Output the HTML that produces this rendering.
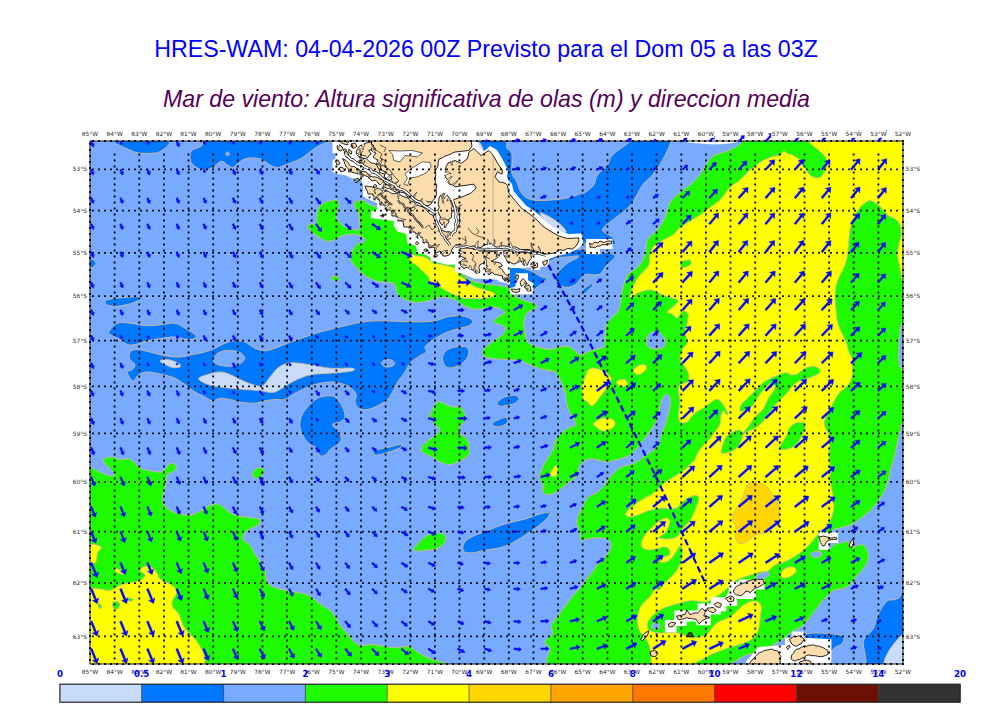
<!DOCTYPE html>
<html lang="es"><head><meta charset="utf-8"><title>HRES-WAM Mar de viento</title>
<style>html,body{margin:0;padding:0;background:#fff}svg{display:block}.t1{font-family:"Liberation Sans",sans-serif;font-size:23.23px;fill:#0000ff}.t2{font-family:"Liberation Sans",sans-serif;font-size:23.145px;font-style:italic;fill:#550055}.tk{font-family:"DejaVu Sans","Liberation Sans",sans-serif;font-size:5.9px;fill:#2a2a2a}.cb{font-family:"DejaVu Sans","Liberation Sans",sans-serif;font-size:8.7px;font-weight:bold;fill:#0000ff}</style></head><body>
<svg width="1000" height="707" viewBox="0 0 1000 707">
<rect width="1000" height="707" fill="#fff"/>
<text class="t1" x="486" y="56.5" text-anchor="middle">HRES-WAM: 04-04-2026 00Z Previsto para el Dom 05 a las 03Z</text>
<text class="t2" x="486.5" y="106.5" text-anchor="middle">Mar de viento: Altura significativa de olas (m) y direccion media</text>
<defs><clipPath id="fr"><rect x="90.0" y="141.0" width="813.0" height="523.0"/></clipPath></defs>
<g clip-path="url(#fr)">
<rect x="90.0" y="141.0" width="813.0" height="523.0" fill="#78aaff"/>
<path d="M113.8 128C104.5 130.2 112.5 138.2 113.8 141.2C115 144.2 118.3 144.5 121 146C123.7 147.5 127 148.8 130 150C133 151.2 134.6 152.5 138.8 153C142.9 153.5 151 153.5 155 153C159 152.5 160.4 151.2 162.5 150C164.6 148.8 166.3 147.5 167.5 146C168.7 144.5 169.2 144 169.5 141C169.8 138 178.8 130.2 169.5 128C160.2 125.8 123 125.8 113.8 128ZM202.5 128C180.4 130.2 202.7 138 202.5 141C202.3 144 202.9 144.8 201.2 146.2C199.6 147.8 194.4 148.5 192.5 150C190.6 151.5 190.2 152.9 190 155C189.8 157.1 190 160.3 191.2 162.5C192.5 164.7 195.2 166.8 197.5 168C199.8 169.2 202.5 170.1 205 170C207.5 169.9 209.8 169 212.5 167.5C215.2 166 218.8 161.7 221.2 161.2C223.8 160.8 225.6 164 227.5 165C229.4 166 230.8 167.7 232.5 167.5C234.2 167.3 235.4 165.2 237.5 163.8C239.6 162.3 242.1 159.7 245 158.8C247.9 157.8 252.1 157.8 255 158C257.9 158.2 260 158.8 262.5 160C265 161.2 267.5 163.8 270 165C272.5 166.2 275 167.5 277.5 167.5C280 167.5 282.1 166 285 165C287.9 164 292.1 162.5 295 161.2C297.9 160 299.6 159.4 302.5 157.5C305.4 155.6 309.6 152.1 312.5 150C315.4 147.9 317.1 146.5 320 145C322.9 143.5 327.2 142.2 329.8 141.2C332.2 140.2 334.1 141.2 335 139C335.9 136.8 357.1 129.8 335 128C312.9 126.2 224.6 125.8 202.5 128ZM78 258C80 256.5 87.3 258.6 90 259C92.7 259.4 93 259.8 94 260.5C95 261.2 96 262.5 96 263.5C96 264.5 95 265.8 94 266.5C93 267.2 92.7 267.2 90 267.5C87.3 267.8 80 269.6 78 268C76 266.4 76 259.5 78 258ZM105 301.2C105.8 300.2 108.3 299.5 112.5 298.8C116.7 298 125.6 297.3 130 297C134.4 296.7 137.3 296.5 138.8 297C140.2 297.5 140.2 298.9 138.8 300C137.3 301.1 133.5 302.7 130 303.8C126.5 304.8 121.2 306 117.5 306.2C113.8 306.5 109.6 305.8 107.5 305C105.4 304.2 104.2 302.3 105 301.2ZM108.8 332C109.6 329.9 114 324.7 117.5 323.2C121 321.8 125 322.8 130 323.2C135 323.7 142.1 325.5 147.5 325.8C152.9 326 157.9 324.9 162.5 324.5C167.1 324.1 171.2 322.6 175 323.2C178.8 323.9 181.7 326.4 185 328.2C188.3 330.1 193.3 332.8 195 334.5C196.7 336.2 196.2 337.4 195 338.2C193.8 339.1 190.8 339.7 187.5 339.5C184.2 339.3 179.2 337.2 175 337C170.8 336.8 167.1 337.6 162.5 338.2C157.9 338.9 152.1 339.7 147.5 340.8C142.9 341.8 138.3 343.9 135 344.5C131.7 345.1 130 345.3 127.5 344.5C125 343.7 122.5 341 120 339.5C117.5 338 114.4 337 112.5 335.8C110.6 334.5 107.9 334.1 108.8 332ZM130 352C131.2 350.3 134.2 349.5 137.5 349.5C140.8 349.5 145.4 351 150 352C154.6 353 160 354.9 165 355.8C170 356.6 175.4 357.2 180 357C184.6 356.8 188.3 355.3 192.5 354.5C196.7 353.7 201.2 353 205 352C208.8 351 211.7 349.7 215 348.2C218.3 346.8 221.7 344.5 225 343.2C228.3 342 231.7 341 235 340.8C238.3 340.5 241.7 340.8 245 342C248.3 343.2 251.7 346.8 255 348.2C258.3 349.7 261.7 350.8 265 350.8C268.3 350.8 271.2 349.5 275 348.2C278.8 347 282.5 345.1 287.5 343.2C292.5 341.4 299.6 338.9 305 337C310.4 335.1 315.8 333.2 320 332C324.2 330.8 325.8 330.5 330 329.5C334.2 328.5 339.6 327 345 325.8C350.4 324.5 356.7 322.8 362.5 322C368.3 321.2 373.8 320.8 380 320.8C386.2 320.7 393.8 321.3 400 321.5C406.2 321.7 411.7 322.1 417.5 322C423.3 321.9 430 321.6 435 320.8C440 319.9 443.3 317.8 447.5 317C451.7 316.2 456.2 315.5 460 315.8C463.8 316 467.9 317.2 470 318.2C472.1 319.3 472.7 320.8 472.5 322C472.3 323.2 470.8 324.7 468.8 325.8C466.7 326.8 463.5 327.2 460 328.2C456.5 329.3 451.2 330.5 447.5 332C443.8 333.5 440.4 335.3 437.5 337C434.6 338.7 432.1 340.3 430 342C427.9 343.7 425.6 345.3 425 347C424.4 348.7 427.1 350.5 426.2 352C425.4 353.5 422.7 353.9 420 355.8C417.3 357.6 412.5 360.5 410 363.2C407.5 366 407.1 368.9 405 372C402.9 375.1 399.6 378.7 397.5 382C395.4 385.3 394.2 389.1 392.5 392C390.8 394.9 390 397.2 387.5 399.5C385 401.8 380.8 404.1 377.5 405.8C374.2 407.4 370.6 409.1 367.5 409.5C364.4 409.9 360.8 409.5 358.8 408.2C356.7 407 355.4 404.3 355 402C354.6 399.7 357.1 397 356.2 394.5C355.4 392 352.7 388.9 350 387C347.3 385.1 343.3 384.1 340 383.2C336.7 382.4 334.2 381.8 330 382C325.8 382.2 319.6 383.2 315 384.5C310.4 385.8 306.2 387.8 302.5 389.5C298.8 391.2 295.4 392.8 292.5 394.5C289.6 396.2 287.9 398.7 285 399.5C282.1 400.3 278.3 399.3 275 399.5C271.7 399.7 268.3 400.1 265 400.8C261.7 401.4 259.2 403 255 403.2C250.8 403.5 244.2 402.6 240 402C235.8 401.4 233.3 400.1 230 399.5C226.7 398.9 222.9 398 220 398.2C217.1 398.5 215 401 212.5 400.8C210 400.5 207.9 398.5 205 397C202.1 395.5 198.3 394.1 195 392C191.7 389.9 188.3 386.8 185 384.5C181.7 382.2 178.8 379.9 175 378.2C171.2 376.6 167.1 375.5 162.5 374.5C157.9 373.5 151.5 372 147.5 372C143.5 372 141 373 138.8 374.5C136.5 376 135.2 380.1 133.8 380.8C132.3 381.4 131 379.7 130 378.2C129 376.8 127.1 373.5 127.5 372C127.9 370.5 131.2 370.8 132.5 369.5C133.8 368.2 135.4 366.2 135 364.5C134.6 362.8 130.8 361.6 130 359.5C129.2 357.4 128.8 353.7 130 352ZM330 395.8C333.1 395.8 334.2 396.4 336.2 398.2C338.3 400.1 341 403.9 342.5 407C344 410.1 345.4 414.5 345 417C344.6 419.5 342.1 420.8 340 422C337.9 423.2 332.7 422.8 332.5 424.5C332.3 426.2 337.3 429.5 338.8 432C340.2 434.5 341.5 437.4 341.2 439.5C341 441.6 339.4 442.8 337.5 444.5C335.6 446.2 331.9 447.8 330 449.5C328.1 451.2 327.9 453.5 326.2 454.5C324.6 455.5 321.5 456.8 320 455.8C318.5 454.7 319.2 450.1 317.5 448.2C315.8 446.4 312.3 446.4 310 444.5C307.7 442.6 305.4 439.9 303.8 437C302.1 434.1 300.4 430.3 300 427C299.6 423.7 300 420.3 301.2 417C302.5 413.7 304.8 410.1 307.5 407C310.2 403.9 313.8 400.1 317.5 398.2C321.2 396.4 326.9 395.8 330 395.8ZM442.5 358.2C442.5 355.5 444.2 352.6 446.2 350.8C448.3 348.9 451.7 347.6 455 347C458.3 346.4 464 346 466.2 347C468.5 348 469 351 468.8 353.2C468.5 355.5 467.3 358.5 465 360.8C462.7 363 458.1 366 455 367C451.9 368 448.3 368.5 446.2 367C444.2 365.5 442.5 361 442.5 358.2ZM373.8 452C374.6 451 377.3 449.8 380 449C382.7 448.2 386.7 447.8 390 447C393.3 446.2 398.1 444.5 400 444.5C401.9 444.5 402.5 446 401.2 447C400 448 395.6 449.6 392.5 450.8C389.4 451.9 385.4 453.3 382.5 454C379.6 454.7 376.5 455.3 375 455C373.5 454.7 372.9 453 373.8 452ZM497.5 402C498.5 400.5 502.1 398.1 505 397C507.9 395.9 512.7 395 515 395.2C517.3 395.5 518.8 396.9 518.8 398.2C518.8 399.6 517.3 402 515 403.2C512.7 404.5 507.7 405.3 505 405.8C502.3 406.2 500 406.4 498.8 405.8C497.5 405.1 496.5 403.5 497.5 402ZM492.5 423.2C493.3 422 497.7 420 500 419C502.3 418 505 417 506.2 417.5C507.5 418 508.1 420.6 507.5 422C506.9 423.4 504.6 425 502.5 425.8C500.4 426.5 496.7 426.9 495 426.5C493.3 426.1 491.7 424.5 492.5 423.2ZM463.8 551.5C462.3 550 462.7 546.3 463.8 544C464.8 541.7 466.5 539.8 470 537.8C473.5 535.7 479.2 533.8 485 531.5C490.8 529.2 498.3 526.1 505 524C511.7 521.9 519.2 520.7 525 519C530.8 517.3 536 515 540 514C544 513 547.5 512.1 548.8 512.8C550 513.4 549.4 515.5 547.5 517.8C545.6 520 541.2 523.6 537.5 526.5C533.8 529.4 529.2 532.5 525 535.2C520.8 538 516.7 540.7 512.5 542.8C508.3 544.8 504.6 546.5 500 547.8C495.4 549 489.6 549.4 485 550.2C480.4 551.1 476 552.5 472.5 552.8C469 553 465.2 553 463.8 551.5ZM478 128C445.8 130.2 477.3 137.3 478 141C478.7 144.7 480 148.2 482 150C484 151.8 487.7 150.3 490 152C492.3 153.7 494.3 157 496 160C497.7 163 499.8 167.3 500 170C500.2 172.7 496.5 173.7 497 176C497.5 178.3 501.2 181.3 503 184C504.8 186.7 506 189 508 192C510 195 512.5 199 515 202C517.5 205 520.3 207.7 523 210C525.7 212.3 528.2 213.7 531 216C533.8 218.3 536.8 221.3 540 224C543.2 226.7 546.7 229.8 550 232C553.3 234.2 556.7 236.2 560 237.5C563.3 238.8 566.7 239.8 570 240C573.3 240.2 578.2 238.3 580 239C581.8 239.7 581.5 242.3 581 244C580.5 245.7 576.1 248 577 249C577.9 250 584.8 249.3 586.3 250C587.8 250.7 584.1 252.4 586.3 253.1C588.5 253.8 596.1 254 599.6 253.9C603.1 253.8 605 252.2 607.3 252.3C609.6 252.4 612.3 253.9 613.6 254.7C614.9 255.5 615.6 255.8 615.1 257C614.6 258.2 612 260.1 610.4 261.7C608.8 263.2 607.1 264.8 605.8 266.3C604.5 267.9 603.7 269.7 602.7 271C601.7 272.3 601.2 273.5 599.6 274.1C598 274.8 595.4 274.9 593.3 274.9C591.2 274.9 588.9 273.9 587.1 274.1C585.3 274.4 583.7 275.4 582.4 276.4C581.1 277.4 580.6 278.9 579.3 280.3C578 281.7 576.5 283.8 574.7 285C572.9 286.2 570.5 287 568.4 287.3C566.3 287.6 564 287.2 562.2 286.6C560.4 286 558.8 284.7 557.6 283.4C556.4 282.1 555.5 280.4 555.2 278.8C554.9 277.2 555.1 275.7 556 274.1C556.9 272.5 559.2 270.9 560.7 269.4C562.2 267.8 563.5 266.2 565.3 264.8C567.1 263.4 569.5 262.1 571.6 260.9C573.7 259.7 576.8 258.6 577.8 257.8C578.8 257 579.1 256 577.8 255.8C576.5 255.6 573.1 256.4 570 256.7C566.9 257 562.5 257.1 559.1 257.8C555.7 258.5 551.6 260.6 549.8 260.9C548 261.1 547.2 260.1 548.2 259.3C549.2 258.5 552.6 257.2 556 256.2C559.4 255.2 565.6 254.1 568.4 253.1C571.2 252.1 573.4 251 573 250C572.6 249 565.7 248.2 566 247C566.3 245.8 567.2 243.3 575 243C582.8 242.7 606.2 245.9 612.5 245C618.8 244.1 614.2 240 612.5 237.5C610.8 235 602.5 232.9 602.5 230C602.5 227.1 609.2 222.9 612.5 220C615.8 217.1 619.2 215.4 622.5 212.5C625.8 209.6 629.2 207.1 632.5 202.5C635.8 197.9 639.2 189.6 642.5 185C645.8 180.4 649.2 179.2 652.5 175C655.8 170.8 659.4 165.7 662.5 160C665.6 154.3 669.8 146.3 671.2 141C672.7 135.7 703.5 130.2 671.2 128C639 125.8 510.2 125.8 478 128ZM581.7 292C581.8 291.1 583.5 289.3 584.8 288.1C586.1 286.9 588.1 285.8 589.4 285C590.7 284.2 592.2 283.1 592.6 283.4C593 283.7 592.6 285.4 591.8 286.6C591 287.8 589.2 289.2 587.9 290.4C586.6 291.6 585 293.3 584 293.6C583 293.9 581.6 292.9 581.7 292ZM510.1 267.9C511.7 263.8 516.7 267.4 520.2 267.9C523.7 268.4 527.7 269.6 531.1 271C534.5 272.4 537.8 275.1 540.4 276.4C543 277.7 546.4 277.6 546.7 278.8C547 280 543.8 281.8 542 283.4C540.2 284.9 537.5 286.5 535.8 288.1C534.1 289.7 536 292 531.9 292.8C527.8 293.6 514.5 297 510.9 292.8C507.3 288.6 508.6 272 510.1 267.9ZM916 590C913.8 576 905.7 591.5 903 592.7C900.3 593.9 901.3 596.1 899.9 597.3C898.5 598.5 896.3 599.2 894.4 599.7C892.5 600.2 890 599.5 888.2 600.4C886.4 601.3 885.2 603 883.6 605.1C882 607.2 880.2 610.3 878.9 612.9C877.6 615.5 876.6 618.4 875.8 620.7C875 623 875.2 624.8 874.2 626.9C873.2 629 871.2 631.3 869.6 633.1C868 634.9 866 636 864.9 637.8C863.8 639.6 863.3 641.4 863.3 644C863.3 646.6 864.4 650 864.9 653.3C865.4 656.6 866.1 659.9 866.4 663.9C866.6 667.9 858.1 674.8 866.4 677C874.7 679.2 907.7 691.5 916 677C924.3 662.5 918.2 604 916 590ZM805.8 634.7C807.6 632.7 812.3 633.2 816.7 633.1C821.1 633 828.1 633.5 832.2 633.9C836.4 634.3 839.7 634.5 841.6 635.4C843.5 636.3 843.9 637.9 843.9 639.3C843.9 640.7 843 642.7 841.6 644C840.2 645.3 836.9 646.1 835.3 647.1C833.7 648.1 833.9 649.4 832.2 650.2C830.5 651 829.4 652.9 825 652C820.6 651.1 809 647.9 805.8 645C802.6 642.1 804 636.7 805.8 634.7Z" fill="#0078ff" stroke="#d0b898" stroke-width="0.9"/>
<path d="M213.8 362C212.7 360.1 214.4 356.4 216.2 354.5C218.1 352.6 221.5 351.2 225 350.8C228.5 350.2 234.4 350.7 237.5 351.5C240.6 352.3 242.7 354.2 243.8 355.8C244.8 357.3 245.2 359.1 243.8 360.8C242.3 362.4 238.5 364.9 235 365.8C231.5 366.6 226 366.4 222.5 365.8C219 365.1 214.8 363.9 213.8 362ZM381.5 363.2C381.5 362.2 382.9 360.8 384 360.2C385.1 359.6 386.6 359.4 388 359.5C389.4 359.6 391.4 359.9 392.5 360.5C393.6 361.1 394.8 362.3 394.8 363.2C394.8 364.2 393.6 365.4 392.5 366C391.4 366.6 389.4 366.9 388 367C386.6 367.1 385.1 366.9 384 366.3C382.9 365.7 381.5 364.3 381.5 363.2ZM225.5 153.8C225.5 153.1 226.8 151.9 227.5 151.9C228.2 151.9 229.7 153.1 229.7 153.8C229.7 154.4 228.2 155.7 227.5 155.7C226.8 155.7 225.5 154.4 225.5 153.8ZM506.9 128C485.9 130.3 506.9 138.4 506.9 141.8C506.9 145.1 506.1 145.9 506.9 148C507.7 150.1 511.1 150.1 511.9 154.2C512.7 158.4 511.2 168.6 511.9 173C512.6 177.4 514.9 177.6 516.2 180.5C517.6 183.4 518.5 187.8 520 190.5C521.5 193.2 522.9 195.2 525 196.8C527.1 198.3 529.6 199.3 532.5 199.9C535.4 200.5 537.9 200.6 542.5 200.5C547.1 200.4 555 199.9 560 199.2C565 198.6 569.2 197.7 572.5 196.8C575.8 195.8 577.9 194.5 580 193.8C582.1 193 582.7 194 585 192.5C587.3 191 591.7 187.9 593.8 185C595.8 182.1 595.2 178.3 597.5 175C599.8 171.7 605 168.3 607.5 165C610 161.7 608.8 159 612.5 155C616.2 151 626.6 145.5 630 141C633.4 136.5 653.5 130.2 633 128C612.5 125.8 527.9 125.7 506.9 128Z" fill="#78aaff" stroke="#d0b898" stroke-width="0.9"/>
<path d="M160 360.8C160.4 359.9 164.4 359.1 167.5 359.5C170.6 359.9 176.7 362 178.8 363.2C180.8 364.5 181 366.3 180 367C179 367.7 175 367.9 172.5 367.5C170 367.1 167.1 365.6 165 364.5C162.9 363.4 159.6 361.6 160 360.8ZM198.8 378.2C199.6 377 204 375.5 207.5 374.5C211 373.5 216.2 372 220 372C223.8 372 226.7 373.2 230 374.5C233.3 375.8 236.2 377.8 240 379.5C243.8 381.2 248.8 383.5 252.5 384.5C256.2 385.5 259.6 387 262.5 385.8C265.4 384.5 267.5 379.9 270 377C272.5 374.1 274.6 370.5 277.5 368.2C280.4 366 283.8 364.1 287.5 363.2C291.2 362.4 295.4 362.8 300 363.2C304.6 363.7 310 364.9 315 365.8C320 366.6 323.8 367.8 330 368.2C336.2 368.7 348.8 367.8 352.5 368.2C356.2 368.7 354.6 370 352.5 370.8C350.4 371.5 343.8 372.1 340 372.5C336.2 372.9 334.6 372.9 330 373.2C325.4 373.6 317.5 373.7 312.5 374.5C307.5 375.3 303.8 376.8 300 378.2C296.2 379.7 293.3 381.4 290 383.2C286.7 385.1 282.9 388 280 389.5C277.1 391 275.8 392.3 272.5 392.5C269.2 392.7 264.6 391.2 260 390.8C255.4 390.2 250 389.9 245 389.5C240 389.1 235.4 388.9 230 388.2C224.6 387.6 217.1 386.8 212.5 385.8C207.9 384.7 204.8 383.2 202.5 382C200.2 380.8 197.9 379.5 198.8 378.2ZM883.6 677C878.2 674.8 883.1 667.6 883.6 663.9C884.1 660.2 885.4 657.7 886.7 654.9C888 652.1 889.5 649.7 891.3 647.1C893.1 644.5 895.6 641.4 897.6 639.3C899.6 637.2 899.9 636.2 903 634.7C906.1 633.2 913.8 623 916 630C918.2 637 921.4 669.2 916 677C910.6 684.8 889 679.2 883.6 677ZM540 213C540.2 211.8 544.3 214.2 547 215.5C549.7 216.8 553.3 219.1 556 221C558.7 222.9 561.3 225.2 563 227C564.7 228.8 566.5 231.2 566 232C565.5 232.8 562.2 232.7 560 232C557.8 231.3 555.3 229.5 553 228C550.7 226.5 548.2 225.5 546 223C543.8 220.5 539.8 214.2 540 213ZM477 143C476.8 141.7 479 142 480 143C481 144 482.8 147.7 483 149C483.2 150.3 482 152 481 151C480 150 477.2 144.3 477 143Z" fill="#c8dcfa" stroke="#d0b898" stroke-width="0.9"/>
<path d="M742.5 141C744.6 137.3 713.6 130.2 742.5 128C771.4 125.8 887.1 96.3 916 128C944.9 159.7 918.2 285.7 916 318C913.8 350.3 905.7 319.7 903 322C900.3 324.3 900.7 327.8 900 332C899.3 336.2 899.2 342 899 347C898.8 352 898.5 358.2 899 362C899.5 365.8 901.1 367.8 901.8 369.5C902.4 371.2 900.6 370.9 903 372C905.4 373.1 913.8 368.3 916 376C918.2 383.7 918.2 410.3 916 418C913.8 425.7 905.7 419.7 903 422C900.3 424.3 900.9 428.7 900 432C899.1 435.3 898.3 438.2 897.5 442C896.7 445.8 896 450.3 895 454.5C894 458.7 892.2 463.4 891.2 467C890.3 470.6 890.1 473.4 889.4 476.2C888.7 479 888 481.4 887.1 484C886.2 486.6 885.3 489.2 884 491.8C882.7 494.4 881.1 497 879.3 499.6C877.5 502.2 875.2 505 873.1 507.3C871 509.6 869 511.8 866.9 513.6C864.8 515.4 862.8 516.7 860.7 518.2C858.6 519.8 856.7 521.6 854.4 522.9C852.1 524.2 849.3 525.1 846.7 526C844.1 526.9 841.1 527.6 838.9 528.3C836.7 528.9 834.9 528.8 833.4 529.9C831.9 531 830.7 532.8 830 535C829.3 537.2 829.2 540.6 829 543C828.8 545.4 827.9 549 828.8 549.3C829.7 549.6 832.3 545.7 834.2 544.7C836.1 543.7 838.3 543.6 840.4 543.1C842.5 542.6 845.1 541.3 846.7 541.6C848.3 541.9 848.5 543.8 849.8 544.7C851.1 545.6 852.8 547 854.4 547C856 547 857.5 545 859.1 544.7C860.7 544.4 862.5 544.6 863.8 545.4C865.1 546.2 866.1 547.6 866.9 549.3C867.7 551 868.4 553.3 868.4 555.6C868.4 557.9 867.5 561.5 866.9 563.3C866.3 565.1 866 564.7 864.9 566.2C863.8 567.7 861.8 570.6 860.2 572.4C858.7 574.2 856.9 575.5 855.6 577.1C854.3 578.7 853.7 580.2 852.4 581.8C851.1 583.3 849.6 585.2 847.8 586.4C846 587.6 843.7 588.3 841.6 588.8C839.5 589.3 837.1 589 835.3 589.6C833.5 590.2 832.2 591.4 830.7 592.7C829.2 594 827.6 595.8 826 597.3C824.4 598.8 822.8 600.2 821.3 602C819.8 603.8 818.2 606.1 816.7 608.2C815.2 610.3 813.6 612.3 812 614.4C810.4 616.5 809.1 618.6 807.3 620.7C805.5 622.8 803.2 625.4 801.1 626.9C799 628.4 796.5 629.2 794.9 630C793.3 630.8 793.5 630.3 791.8 631.6C790.1 632.9 787.1 636.1 784.8 637.8C782.5 639.5 780.5 640.5 778 642C775.5 643.5 773 645.3 770 647C767 648.7 763.3 650.8 760 652C756.7 653.2 753 653.2 750 654C747 654.8 744.3 655.8 742 657C739.7 658.2 737.8 659.8 736 661C734.2 662.2 731.8 661.3 731 664C730.2 666.7 761.8 674.8 731 677C700.2 679.2 577 679.2 546.2 677C515.5 674.8 546 667.4 546.2 664C546.5 660.6 546.9 659 547.5 656.5C548.1 654 550.4 651.5 550 649C549.6 646.5 544.6 644 545 641.5C545.4 639 551.5 636.7 552.5 634C553.5 631.3 550.4 628.2 551.2 625.2C552.1 622.3 555.2 619.6 557.5 616.5C559.8 613.4 562.5 609.8 565 606.5C567.5 603.2 570 599.6 572.5 596.5C575 593.4 577.9 590.2 580 587.8C582.1 585.2 582.9 584.2 585 581.5C587.1 578.8 590 574.8 592.5 571.5C595 568.2 597.5 564.4 600 561.5C602.5 558.6 605.6 556.7 607.5 554C609.4 551.3 611.2 547.8 611.2 545.2C611.2 542.8 610.2 540.2 607.5 539C604.8 537.8 598.8 537.7 595 537.8C591.2 537.8 587.5 539.1 585 539.5C582.5 539.9 580.7 540.9 580 540.2C579.3 539.6 580.9 537.6 580.7 535.8C580.6 534 579.8 531.7 579.1 529.6C578.5 527.5 577 525.4 576.8 523.3C576.5 521.2 577 519.2 577.6 517.1C578.2 515 579.7 513 580.7 510.9C581.7 508.8 582.8 506.8 583.8 504.7C584.8 502.6 585.6 500 586.9 498.4C588.2 496.8 589.8 496.3 591.6 495.3C593.4 494.3 596 493.5 597.8 492.2C599.6 490.9 600.8 489.4 602.4 487.6C604 485.8 605.5 483.4 607.1 481.3C608.7 479.2 610.2 476.9 611.8 475.1C613.3 473.3 614.6 471.8 616.4 470.4C618.2 469 620.6 467.5 622.7 466.6C624.8 465.7 626.8 465.6 628.9 465C631 464.4 633 463.7 635.1 462.7C637.2 461.7 639 460.4 641.3 458.8C643.6 457.2 646.8 455 649.1 453.3C651.4 451.6 653.5 450.8 655.3 448.7C657.1 446.6 659 443 660 440.9C661 438.8 660.2 438.6 661 436C661.8 433.4 663.8 428.5 665 425C666.2 421.5 667.2 418.3 668 415C668.8 411.7 669.7 407.8 670 405C670.3 402.2 670.6 399.8 670 398C669.4 396.2 667.8 393.9 666.5 394C665.2 394.1 663.6 396.3 662.5 398.5C661.4 400.7 660.8 403.9 660 407C659.2 410.1 658.7 413.7 657.5 417C656.3 420.3 654.6 424.2 653 427C651.4 429.8 649.7 431.7 648 434C646.3 436.3 644.5 438.7 642.9 440.9C641.3 443.1 639.8 445.3 638.2 447.1C636.7 448.9 635.2 450.4 633.6 451.8C632 453.2 630.7 454.7 628.9 455.7C627.1 456.7 625 457.2 622.7 458C620.4 458.8 617.5 459.7 614.9 460.3C612.3 460.9 609.7 461.9 607.1 461.9C604.5 461.9 601.9 460.8 599.3 460.3C596.7 459.8 593.9 458.8 591.6 458.8C589.3 458.8 587.1 459.4 585.3 460.3C583.5 461.2 581.9 462.8 580.7 464.2C579.5 465.6 578.6 467.1 578.3 468.9C578 470.7 579.8 473.6 579.1 475.1C578.5 476.7 576.2 476.9 574.4 478.2C572.6 479.5 570.3 481.3 568.2 482.9C566.1 484.5 564.3 485.9 562 487.6C559.7 489.3 556.8 491.8 554.2 493C551.6 494.2 548.3 495 546.4 494.6C544.5 494.2 543.1 492.1 542.6 490.7C542.1 489.3 543.8 488.1 543.3 486C542.8 483.9 539.9 480.3 539.4 478.2C538.9 476.1 539.3 476.2 540.2 473.6C541.1 471 543.1 466.1 544.9 462.7C546.7 459.3 549.5 456.1 551.1 453.3C552.7 450.5 553.2 448.2 554.2 445.6C555.2 443 555.5 440.4 557.3 437.8C559.1 435.2 562.6 431.9 565.1 430C567.6 428.1 570.1 427.4 572 426.5C573.9 425.6 576.2 426.1 576.2 424.5C576.3 422.9 574 419.9 572.5 417C571 414.1 568.8 411.2 567.5 407C566.2 402.8 566.2 396.6 565 392C563.8 387.4 561.7 382.8 560 379.5C558.3 376.2 557.9 373.7 555 372C552.1 370.3 546.2 370.5 542.5 369.5C538.8 368.5 536.2 367.2 532.5 365.8C528.8 364.3 524.6 361.8 520 360.8C515.4 359.7 510 359.9 505 359.5C500 359.1 493.8 359.1 490 358.2C486.2 357.4 483.5 356 482.5 354.5C481.5 353 482.1 351.6 483.8 349.5C485.4 347.4 489.4 344.5 492.5 342C495.6 339.5 500.4 337 502.5 334.5C504.6 332 506.5 329.1 505 327C503.5 324.9 495.1 323.5 493.8 322C492.4 320.5 495.5 319.2 497 318C498.5 316.8 501.2 315.3 502.5 314.5C503.8 313.7 505.4 314 505 313C504.6 312 502.3 309.5 500 308.5C497.7 307.5 494.6 307.1 491.2 307.2C487.9 307.4 483.3 308.9 480 309.1C476.7 309.3 474.2 309.2 471.2 308.5C468.3 307.8 465.2 306.2 462.5 304.8C459.8 303.3 458.3 301 455 299.8C451.7 298.5 446 297.4 442.5 297.2C439 297.1 436.7 298.4 433.8 299.1C430.8 299.8 428.1 301.1 425 301.6C421.9 302.1 418.3 302.6 415 302.2C411.7 301.9 407.7 300.8 405 299.8C402.3 298.7 400.2 297.7 398.8 296C397.3 294.3 397.1 291.8 396.2 289.8C395.4 287.7 395.6 284.8 393.8 283.5C391.9 282.2 387.9 282.7 385 282.2C382.1 281.8 379.2 281.8 376.2 281C373.3 280.2 370 278.7 367.5 277.2C365 275.8 363.3 274.1 361.2 272.2C359.2 270.4 356.8 268.1 355 266C353.2 263.9 351.2 261.9 350.6 259.8C350 257.6 350.5 255.2 351.2 253C352 250.8 353.8 248.2 355 246.6C356.2 244.9 357.3 243.9 358.8 243.1C360.2 242.3 362.6 242.4 363.8 241.9C364.9 241.4 365.6 240.6 365.6 240C365.6 239.4 364.7 238.8 363.8 238.1C362.8 237.4 361.5 236.2 360 235.6C358.5 235 356.9 234.6 355 234.4C353.1 234.2 350.8 234.2 348.8 234.4C346.7 234.6 344.4 235 342.5 235.6C340.6 236.2 339.2 237.3 337.5 238.1C335.8 238.9 334.2 240.1 332.5 240.6C330.8 241.1 329.2 241.4 327.5 241.2C325.8 241.1 324.2 240.2 322.5 239.4C320.8 238.6 319.2 237.4 317.5 236.2C315.8 235.1 314 233.8 312.5 232.5C311 231.2 309.6 229.9 308.8 228.8C307.9 227.6 307.1 226.4 307.5 225.6C307.9 224.8 309.8 224.1 311.2 223.8C312.7 223.4 315.3 224.8 316.2 223.8C317.2 222.7 316.7 219.6 316.9 217.5C317.1 215.4 317 213.1 317.5 211.2C318 209.4 318.8 207.7 320 206.2C321.2 204.8 323.1 203.4 325 202.5C326.9 201.6 329.4 201 331.2 200.6C333.1 200.2 335 199.7 336.2 200C337.5 200.3 338.3 201.2 338.8 202.5C339.2 203.8 339.1 205.8 338.8 207.5C338.4 209.2 337.3 210.8 336.9 212.5C336.5 214.2 336.1 216 336.2 217.5C336.4 219 337.1 220 338.1 221.2C339.1 222.5 340.7 223.9 342.5 225C344.3 226.1 346.7 227.3 348.8 228.1C350.8 228.9 353.2 229.8 355 230C356.8 230.2 358.6 230.2 359.4 229.4C360.2 228.6 360 226.8 360 225C360 223.2 359.6 220.6 359.4 218.8C359.2 216.9 359.3 215.4 358.8 213.8C358.2 212.1 357.1 210.4 356.2 208.8C355.4 207.1 353.5 205 353.8 203.8C354 202.5 356 201.9 357.5 201.2C359 200.6 361 199.8 362.5 200C364 200.2 365 201.7 366.2 202.5C367.5 203.3 368.4 204.2 370 205C371.6 205.8 373.5 205.8 376 207C378.5 208.2 381.8 209.8 385 212C388.2 214.2 391.7 217.3 395 220C398.3 222.7 401.7 225 405 228C408.3 231 411.7 234.7 415 238C418.3 241.3 421.7 245 425 248C428.3 251 431.2 253.7 435 256C438.8 258.3 444.2 260.5 447.5 262C450.8 263.5 452.8 263 455 264.8C457.2 266.5 458.5 270 460.6 272.2C462.7 274.5 464.9 276.8 467.5 278.5C470.1 280.2 473.1 281.3 476.2 282.2C479.4 283.2 482.7 283.6 486.2 284.1C489.8 284.6 494 284.9 497.5 285.4C501 285.9 505.2 286.3 507.5 287.2C509.8 288.2 510 289.5 511.2 291C512.5 292.5 513.1 294.5 515 296C516.9 297.5 520 298.7 522.5 299.8C525 300.8 527.7 301.4 530 302.2C532.3 303.1 535.4 303.7 536.2 304.8C537.1 305.8 536 307.5 535 308.5C534 309.5 531.5 310.1 530 311C528.5 311.9 527.3 312.2 526.2 314C525.2 315.8 524 319 523.8 322C523.5 325 524.4 328.7 525 332C525.6 335.3 525.4 339.5 527.5 342C529.6 344.5 533.8 345.8 537.5 347C541.2 348.2 546.2 349.5 550 349.5C553.8 349.5 556.7 347.4 560 347C563.3 346.6 566.7 345.7 570 347C573.3 348.3 577.1 354.2 580 355C582.9 355.8 585 352.9 587.5 352C590 351.1 592.3 350.3 595 349.5C597.7 348.7 602.1 349.1 603.8 347C605.4 344.9 604.6 340.3 605 337C605.4 333.7 605.4 329.9 606.2 327C607.1 324.1 608.1 322 610 319.5C611.9 317 615.8 314.4 617.5 312C619.2 309.6 619.2 308.7 620 305C620.8 301.3 621.2 295 622.5 290C623.8 285 625 278.8 627.5 275C630 271.2 634.6 270.8 637.5 267.5C640.4 264.2 643.3 259.6 645 255C646.7 250.4 645.4 244.2 647.5 240C649.6 235.8 654.6 233.8 657.5 230C660.4 226.2 662.9 222.1 665 217.5C667.1 212.9 667.5 206.7 670 202.5C672.5 198.3 676.7 195.4 680 192.5C683.3 189.6 686.7 187.9 690 185C693.3 182.1 697.1 178.8 700 175C702.9 171.2 705 165.8 707.5 162.5C710 159.2 711.2 157.1 715 155C718.8 152.9 725.4 152.3 730 150C734.6 147.7 740.4 144.7 742.5 141ZM78 462C80 427 87.2 465.8 90 467C92.8 468.2 92.9 468.5 95 469.5C97.1 470.5 100 472.2 102.5 473.2C105 474.3 107.9 475.5 110 475.8C112.1 476 115 475.8 115 474.5C115 473.2 111.9 470.3 110 468.2C108.1 466.2 104.6 463.7 103.8 462C102.9 460.3 103.5 459.1 105 458.2C106.5 457.4 110 456.8 112.5 457C115 457.2 117.1 459.2 120 459.5C122.9 459.8 127.5 458.4 130 459C132.5 459.6 133.3 461.7 135 463.2C136.7 464.8 137.5 467 140 468.2C142.5 469.5 146.7 470.1 150 470.8C153.3 471.4 157.3 472.4 160 472C162.7 471.6 164.6 469.7 166.2 468.2C167.9 466.8 168.5 463.9 170 463.2C171.5 462.6 174 463.7 175 464.5C176 465.3 176.7 467 176.2 468.2C175.8 469.5 174 471 172.5 472C171 473 168.5 472.8 167.5 474.5C166.5 476.2 166.7 479.6 166.2 482C165.8 484.4 165.6 486.6 165 489C164.4 491.4 162.7 494 162.5 496.5C162.3 499 162.5 501.7 163.8 504C165 506.3 167.3 508.6 170 510.2C172.7 511.9 176.7 513.2 180 514C183.3 514.8 186.7 515.7 190 515.2C193.3 514.8 197.1 513 200 511.5C202.9 510 204.8 507.8 207.5 506.5C210.2 505.2 213.8 504 216.2 504C218.8 504 220.2 505 222.5 506.5C224.8 508 227.1 511.1 230 512.8C232.9 514.4 236.2 515.7 240 516.5C243.8 517.3 249.2 517.1 252.5 517.8C255.8 518.4 259.2 519 260 520.2C260.8 521.5 259.2 523.8 257.5 525.2C255.8 526.7 252.3 527.5 250 529C247.7 530.5 244.8 532.1 243.8 534C242.7 535.9 242.7 538.4 243.8 540.2C244.8 542.1 248.1 543 250 545.2C251.9 547.5 253.3 551.3 255 554C256.7 556.7 258.3 559 260 561.5C261.7 564 264 566.1 265 569C266 571.9 265.4 576.3 266.2 579C267.1 581.7 267.7 583.6 270 585.2C272.3 586.9 276.2 588 280 589C283.8 590 288.3 590.7 292.5 591.5C296.7 592.3 301.7 593 305 594C308.3 595 310 596.1 312.5 597.8C315 599.4 317.1 601.9 320 604C322.9 606.1 327.5 608.2 330 610.2C332.5 612.3 333.3 614 335 616.5C336.7 619 337.9 622.3 340 625.2C342.1 628.2 345.4 631.5 347.5 634C349.6 636.5 350.4 638.4 352.5 640.2C354.6 642.1 356.7 644.5 360 645.2C363.3 646 368.3 644.3 372.5 644.5C376.7 644.7 381.2 646 385 646.5C388.8 647 391.2 647.8 395 647.8C398.8 647.8 404.2 646.1 407.5 646.5C410.8 646.9 412.1 648.6 415 650.2C417.9 651.9 421.7 654.8 425 656.5C428.3 658.2 431.7 659.1 435 660.2C438.3 661.4 442.5 660.7 445 663.5C447.5 666.3 511.2 674.8 450 677C388.8 679.2 140 712.8 78 677C16 641.2 76 497 78 462ZM252.5 473.2C252.5 471.8 253.5 470.5 255 469.5C256.5 468.5 259.8 467.1 261.2 467.5C262.7 467.9 263.8 470.4 263.8 472C263.8 473.6 262.7 476 261.2 477C259.8 478 256.5 478.9 255 478.2C253.5 477.6 252.5 474.7 252.5 473.2ZM437.5 402C439.4 401 441.2 402.4 443.8 403.2C446.2 404.1 449.8 406.4 452.5 407C455.2 407.6 458.1 406.2 460 407C461.9 407.8 462.9 409.9 463.8 412C464.6 414.1 465.6 417 465 419.5C464.4 422 461 424.7 460 427C459 429.3 457.9 431.6 458.8 433.2C459.6 434.9 463.3 435.1 465 437C466.7 438.9 468.1 441.6 468.8 444.5C469.4 447.4 470.2 451.8 468.8 454.5C467.3 457.2 463.1 459.1 460 460.8C456.9 462.4 453.3 464.3 450 464.5C446.7 464.7 442.9 463.2 440 462C437.1 460.8 435.2 458.5 432.5 457C429.8 455.5 425.6 454.7 423.8 453.2C421.9 451.8 420.8 450.1 421.2 448.2C421.7 446.4 424 444.1 426.2 442C428.5 439.9 432.7 437.8 435 435.8C437.3 433.7 440 431.4 440 429.5C440 427.6 436.7 426.6 435 424.5C433.3 422.4 430.4 419.5 430 417C429.6 414.5 431.2 412 432.5 409.5C433.8 407 435.6 403 437.5 402ZM413.8 550.2C412.5 548.8 417.7 544 420 541.5C422.3 539 424.6 536.7 427.5 535.2C430.4 533.8 434.6 532.8 437.5 532.8C440.4 532.8 443.8 533.8 445 535.2C446.2 536.7 446 539.4 445 541.5C444 543.6 441.7 546.3 438.8 547.8C435.8 549.2 431.7 549.8 427.5 550.2C423.3 550.7 415 551.7 413.8 550.2ZM331 278.5C330.8 277.7 333.5 275.9 335 276C336.5 276.1 339.8 278.2 340 279C340.2 279.8 337.5 281.1 336 281C334.5 280.9 331.2 279.3 331 278.5Z" fill="#1efa00" stroke="#d0b898" stroke-width="0.9"/>
<path d="M647.5 337C648.3 334.7 650.4 332.6 652.5 332C654.6 331.4 657.9 332 660 333.2C662.1 334.5 664.4 337.2 665 339.5C665.6 341.8 665.4 345.4 663.8 347C662.1 348.6 657.7 349.2 655 349C652.3 348.8 648.8 347.8 647.5 345.8C646.2 343.8 646.7 339.3 647.5 337ZM651.6 626.1C651.7 625.3 652.3 624 653 623.5C653.7 623 654.9 622.8 656 623C657.1 623.2 658.8 623.9 659.5 624.5C660.2 625.1 660.4 625.8 660.2 626.5C660 627.2 659.4 628.3 658.5 628.8C657.6 629.3 656 629.4 655 629.3C654 629.2 653.1 628.8 652.5 628.3C651.9 627.8 651.5 626.9 651.6 626.1ZM810.9 554C811.2 553.1 813.2 552.1 814.8 551.7C816.3 551.3 819 551.2 820.2 551.7C821.4 552.2 822 553.9 821.8 554.8C821.5 555.7 820.1 556.7 818.7 557.1C817.3 557.5 814.5 557.6 813.2 557.1C811.9 556.6 810.6 554.9 810.9 554ZM754.9 577.3C754.9 576.2 759 574.3 761.1 573.4C763.2 572.5 765.9 571.8 767.3 571.9C768.7 572 770 573.3 769.7 574.2C769.5 575.1 767.2 576.3 765.8 577.3C764.4 578.3 762.9 580 761.1 580C759.3 580 754.9 578.4 754.9 577.3Z" fill="#78aaff" stroke="#d0b898" stroke-width="0.9"/>
<path d="M808.8 141C807.7 137.8 790.9 130.2 808.8 128C826.6 125.8 898.1 102.2 916 128C933.9 153.8 918.2 257.7 916 283C913.8 308.3 905.5 281.3 903 280C900.5 278.7 901.8 277.1 901.2 275C900.8 272.9 900.6 270.8 900 267.5C899.4 264.2 897.7 258.8 897.5 255C897.3 251.2 898.1 248.3 898.8 245C899.4 241.7 901 238.3 901.2 235C901.5 231.7 901 227.7 900 225C899 222.3 897.1 220.4 895 218.8C892.9 217.1 890 217.1 887.5 215C885 212.9 882.5 208.5 880 206.2C877.5 204 874.6 202.1 872.5 201.2C870.4 200.4 869.6 200.2 867.5 201.2C865.4 202.3 862.3 204.8 860 207.5C857.7 210.2 855.4 213.8 853.8 217.5C852.1 221.2 850.8 225.8 850 230C849.2 234.2 849.2 238.3 848.8 242.5C848.3 246.7 848.1 251.2 847.5 255C846.9 258.8 846.2 261.7 845 265C843.8 268.3 841.5 271.7 840 275C838.5 278.3 837.1 281.2 836.2 285C835.4 288.8 835 293 835 297.5C835 302 835.8 307.9 836.2 312C836.7 316.1 836.7 318.7 837.5 322C838.3 325.3 839.8 328.7 841.2 332C842.7 335.3 845 338.7 846.2 342C847.5 345.3 847.7 349.1 848.8 352C849.8 354.9 851.9 356.2 852.5 359.5C853.1 362.8 852.7 368.7 852.5 372C852.3 375.3 852.3 377 851.2 379.5C850.2 382 848.1 384.9 846.2 387C844.4 389.1 841.9 389.9 840 392C838.1 394.1 836.7 396.6 835 399.5C833.3 402.4 831.7 406.2 830 409.5C828.3 412.8 825.8 416.6 825 419.5C824.2 422.4 824.4 424.5 825 427C825.6 429.5 827.9 431.6 828.8 434.5C829.6 437.4 830 441.2 830 444.5C830 447.8 828.8 451.2 828.8 454.5C828.8 457.8 829.6 461.6 830 464.5C830.4 467.4 831.1 470.1 831 472C830.9 473.9 829.7 474.5 829.6 476.2C829.5 477.9 829.9 480.1 830.3 482.4C830.7 484.7 831.4 487.6 831.9 490.2C832.4 492.8 833.1 495.4 833.4 498C833.7 500.6 834 503.2 833.9 505.8C833.8 508.4 833.4 511 832.7 513.6C832 516.2 830.9 519 829.6 521.3C828.3 523.6 826.5 525.8 824.9 527.6C823.3 529.4 821.8 530.7 820.2 532.2C818.7 533.8 817.2 535.1 815.6 536.9C814 538.7 812.7 541 810.9 543.1C809.1 545.2 806.8 547.5 804.7 549.3C802.6 551.1 800.7 552.4 798.4 554C796.1 555.6 793.3 557.3 790.7 558.7C788.1 560.1 785.5 561.6 782.9 562.6C780.3 563.6 777.6 563.5 775.1 564.9C772.6 566.3 770.4 569.6 767.6 570.9C764.8 572.1 761.3 571.6 758.2 572.4C755.1 573.2 752 574.5 748.9 575.6C745.8 576.7 742.2 577.7 739.6 578.7C737 579.7 735.1 580.5 733.3 581.8C731.5 583.1 730.2 584.8 728.7 586.4C727.2 588 725.8 589.5 724 591.1C722.2 592.7 720.1 594.2 717.8 595.8C715.5 597.3 712.6 599.4 710 600.4C707.4 601.4 705.1 602 702.2 602C699.4 602 696 600.4 692.9 600.4C689.8 600.4 687 601.2 683.6 602C680.2 602.8 676.1 604.1 672.7 605.1C669.3 606.1 666.1 606.9 663.3 608.2C660.4 609.5 657.7 611.3 655.6 612.9C653.5 614.5 652.2 616 650.9 617.6C649.6 619.2 648.3 620.4 647.8 622.2C647.3 624 647 626.8 647.8 628.4C648.6 630 650.3 630.8 652.4 631.6C654.5 632.4 657.1 633 660.2 633.1C663.3 633.2 668 632.3 671.1 632.3C674.2 632.3 676.3 632.5 678.9 633.1C681.5 633.8 684.1 635.4 686.7 636.2C689.3 637 691.8 637.8 694.4 637.8C697 637.8 699.9 637 702.2 636.2C704.5 635.4 706.8 634.4 708.4 633.1C710 631.8 710 630.2 711.6 628.4C713.2 626.6 715.5 623.8 717.8 622.2C720.1 620.7 723 620.4 725.6 619.1C728.2 617.8 731 616.2 733.3 614.4C735.6 612.6 737.5 610 739.6 608.2C741.7 606.4 743.7 604.8 745.8 603.6C747.9 602.4 749.9 601.5 752 601.2C754.1 600.9 756.7 601.1 758.2 602C759.8 602.9 760.9 604.6 761.3 606.7C761.7 608.8 760.9 611.8 760.6 614.4C760.4 617 760.2 619.6 759.8 622.2C759.4 624.8 759 627.7 758.2 630C757.4 632.3 756.7 634.4 755.1 636.2C753.5 638 751.2 639.6 748.9 640.9C746.6 642.2 743.7 643.1 741.1 644C738.5 644.9 735.9 645.5 733.3 646.3C730.7 647.1 728.2 647.8 725.6 648.7C723 649.6 720.4 650.8 717.8 651.8C715.2 652.8 712.6 653.6 710 654.9C707.4 656.2 704.8 658 702.2 659.6C699.6 661.2 695.7 661.3 694.4 664.2C693.1 667.1 701.6 674.9 694.4 677C687.2 679.1 658.4 679.2 651.2 677C644.1 674.8 651.5 668.7 651.2 664C651 659.3 650.8 653.2 650 649C649.2 644.8 647.9 641.9 646.2 639C644.6 636.1 641.5 634.4 640 631.5C638.5 628.6 637.7 624.8 637.5 621.5C637.3 618.2 637.9 614.4 638.8 611.5C639.6 608.6 640.6 606.5 642.5 604C644.4 601.5 647.9 599 650 596.5C652.1 594 653.5 590.1 655 589C656.5 587.9 657.9 590.5 659.1 590C660.3 589.5 660.9 587.3 662.2 585.8C663.5 584.3 665.1 582.9 666.9 581.1C668.7 579.3 671.3 577 673.1 574.9C674.9 572.8 676.5 570.8 677.8 568.7C679.1 566.6 680.1 564.7 680.9 562.4C681.7 560.1 682.1 557 682.4 554.7C682.6 552.4 682.9 549.7 682.4 548.4C681.9 547.1 680.3 546.4 679.3 546.9C678.3 547.4 677.2 550 676.2 551.6C675.2 553.2 674.4 554.7 673.1 556.2C671.8 557.8 670.2 559.9 668.4 560.9C666.6 561.9 663.6 562.4 662.2 562.4C660.8 562.4 659.9 561.7 659.9 560.9C659.9 560.1 660.8 558.7 662.2 557.8C663.6 556.9 667.1 556.2 668.4 555.4C669.7 554.6 670 554.3 670 553.1C670 551.9 669.4 549.4 668.4 548.4C667.4 547.4 665.6 546.9 663.8 546.9C662 546.9 659.9 547.9 657.6 548.4C655.3 548.9 652.1 550 649.8 550C647.5 550 645 549.2 643.6 548.4C642.2 547.6 641.3 546.8 641.2 545.3C641.1 543.8 641.9 541.2 642.8 539.1C643.7 537 645 535 646.7 532.9C648.4 530.8 650.8 528.7 652.9 526.7C655 524.8 657 522.6 659.1 521.2C661.2 519.8 663.8 518.5 665.3 518.1C666.8 517.7 667.6 518.2 668.4 518.9C669.2 519.5 670 520.7 670 522C670 523.3 669.2 524.9 668.4 526.7C667.6 528.5 666.8 531.2 665.3 532.9C663.8 534.6 659.9 535.9 659.1 536.8C658.3 537.7 659.4 537.9 660.7 538.3C662 538.7 664.8 539.1 666.9 539.1C669 539.1 671.3 538.8 673.1 538.3C674.9 537.8 676.5 537.2 677.8 536C679.1 534.8 679.6 533.1 680.9 531.3C682.2 529.5 684 526.9 685.6 525.1C687.2 523.3 688.9 522.2 690.2 520.4C691.5 518.6 692.3 516.5 693.3 514.2C694.3 511.9 695.5 508.7 696.4 506.4C697.3 504.1 698.5 501.9 698.8 500.2C699.1 498.5 698.9 497.1 698 496.3C697.1 495.5 695.1 495.2 693.3 495.6C691.5 496 689.2 497.4 687.1 498.7C685 500 682.5 501.9 680.9 503.3C679.3 504.7 679.1 506.3 677.8 507.2C676.5 508.1 674.7 508.5 673.1 508.8C671.5 509.1 670.2 508.9 668.4 508.8C666.6 508.7 664.8 507.9 662.2 508C659.6 508.1 655.8 509 652.9 509.6C650 510.2 648 510.9 645.1 511.9C642.2 512.9 638.6 515 635.8 515.8C632.9 516.6 629.7 516.9 628 516.6C626.3 516.3 625.7 515.2 625.7 514.2C625.7 513.2 626.6 511.9 628 510.3C629.4 508.8 631.6 506.8 634.2 504.9C636.8 503 640.8 500.4 643.6 498.7C646.5 497 649 496.4 651.3 494.8C653.6 493.2 655.8 491 657.6 489.3C659.4 487.6 660.6 486.1 662.2 484.7C663.9 483.3 665 482.7 667.5 481C670 479.3 674.6 476.4 677.5 474.5C680.4 472.6 682.6 471.5 685 469.5C687.4 467.5 690.4 464.1 692 462.5C693.6 460.9 693.7 461.6 694.7 460C695.7 458.4 696.5 455 697.8 452.7C699.1 450.4 700.6 448.5 702.4 446.4C704.2 444.3 706.9 442.3 708.7 440.2C710.5 438.1 711.8 436.1 713.3 434C714.8 431.9 716.8 429.6 718 427.8C719.2 426 719.8 425.2 720.3 423.1C720.8 421 720.6 417.4 721.1 415.3C721.6 413.2 722.5 410.8 723.4 410.7C724.3 410.6 725.8 414.1 726.6 414.6C727.4 415.1 728.2 414.7 728.1 413.8C728 412.9 726.7 410.7 725.8 409.1C724.9 407.5 723.9 405.9 722.7 404.4C721.5 402.8 720.1 400.6 718.8 399.8C717.5 399 716.3 399.3 714.9 399.8C713.5 400.3 712 401.6 710.2 402.9C708.4 404.2 706.3 406.1 704 407.6C701.7 409.2 698.5 410.4 696.2 412.2C693.9 414 691.5 416.8 690 418.4C688.5 420 689.2 421.4 687.5 422C685.8 422.6 681.5 423.7 680 422C678.5 420.3 678.8 415.3 678.8 412C678.8 408.7 680 405.3 680 402C680 398.7 678.8 394.9 678.8 392C678.8 389.1 678.5 386.2 680 384.5C681.5 382.8 686 383.7 687.5 382C689 380.3 689.2 377 688.8 374.5C688.3 372 686.5 369.5 685 367C683.5 364.5 680.4 362.4 680 359.5C679.6 356.6 681.2 352.4 682.5 349.5C683.8 346.6 687.1 344.9 687.5 342C687.9 339.1 685 335.3 685 332C685 328.7 687 325 687.5 322C688 319 688.6 315.8 688 314C687.4 312.2 685.3 311 684 311C682.7 311 681.2 312.8 680 314C678.8 315.2 678.3 318 677 318C675.7 318 673.6 315 672 314C670.4 313 667 313.5 667.5 312C668 310.5 673.3 307 675 305C676.7 303 679.6 301.7 677.5 300C675.4 298.3 666.7 296.7 662.5 295C658.3 293.3 655.8 290.6 652.5 290C649.2 289.4 645.6 290.4 642.5 291.2C639.4 292.1 635.8 294 633.8 295C631.7 296 630 299.2 630 297.5C630 295.8 632.1 288.8 633.8 285C635.4 281.2 637.5 278.3 640 275C642.5 271.7 647.1 268.3 648.8 265C650.4 261.7 649 258.3 650 255C651 251.7 651.2 248.3 655 245C658.8 241.7 668.3 237.9 672.5 235C676.7 232.1 677.1 229.8 680 227.5C682.9 225.2 686.7 223.3 690 221.2C693.3 219.2 696.7 217.3 700 215C703.3 212.7 706.7 210 710 207.5C713.3 205 716.7 203.3 720 200C723.3 196.7 726.7 190.8 730 187.5C733.3 184.2 736.7 182.9 740 180C743.3 177.1 746.7 172.9 750 170C753.3 167.1 756.7 164.6 760 162.5C763.3 160.4 766.7 158.8 770 157.5C773.3 156.2 777.7 156 780 155C782.3 154 782.5 151.5 783.8 151.2C785 151 786 153.1 787.5 153.8C789 154.4 790.4 154 792.5 155C794.6 156 797.9 157.9 800 160C802.1 162.1 803.3 165 805 167.5C806.7 170 807.9 173.2 810 175C812.1 176.8 815.4 178 817.5 178C819.6 178 821 176.8 822.5 175C824 173.2 825.6 170.2 826.2 167.5C826.9 164.8 826.9 161 826.2 158.8C825.6 156.5 824.4 155.6 822.5 153.8C820.6 151.9 817.3 149.6 815 147.5C812.7 145.4 809.8 144.2 808.8 141ZM410.6 254.5C411.8 253.7 415.1 255.5 417.5 256C419.9 256.5 422.9 256.5 425 257.2C427.1 258 428.5 259.4 430 260.4C431.5 261.4 431.7 262.8 433.8 263.5C435.8 264.2 439 263.9 442.5 264.8C446 265.6 452.1 266.6 455 268.5C457.9 270.4 458.1 274.1 460 276C461.9 277.9 464.4 278.3 466.2 279.8C468.1 281.2 469 283.3 471.2 284.8C473.5 286.2 477.1 287.5 480 288.5C482.9 289.5 486.2 290.1 488.8 291C491.2 291.9 494.4 293.1 495 294C495.6 294.9 494.4 295.9 492.5 296.6C490.6 297.4 486.9 298.2 483.8 298.5C480.6 298.8 477.3 298.6 473.8 298.5C470.2 298.4 465.6 298.6 462.5 298C459.4 297.4 457.3 296 455 295C452.7 294 450.8 293.3 448.8 292.2C446.7 291.2 444.6 289.8 442.5 288.5C440.4 287.2 438.3 285.8 436.2 284.8C434.2 283.7 431.2 283.5 430 282.2C428.8 281 430 279.1 428.8 277.2C427.5 275.4 424.4 272.9 422.5 271C420.6 269.1 419.5 267.7 417.5 266C415.5 264.3 411.8 262.9 410.6 261C409.5 259.1 409.5 255.3 410.6 254.5ZM78 587C80 572.1 86.3 587.4 90 587.8C93.7 588.1 96.7 588.6 100 589C103.3 589.4 106.7 590.9 110 590.2C113.3 589.6 116.7 586.5 120 585.2C123.3 584 126.7 583.6 130 582.8C133.3 581.9 137.5 581.5 140 580.2C142.5 579 145 576.9 145 575.2C145 573.6 140 571.7 140 570.2C140 568.8 142.9 566.9 145 566.5C147.1 566.1 150.4 566.5 152.5 567.8C154.6 569 156.2 572.1 157.5 574C158.8 575.9 158.3 577.5 160 579C161.7 580.5 165 581.3 167.5 582.8C170 584.2 173.5 585.9 175 587.8C176.5 589.6 176.7 591.9 176.2 594C175.8 596.1 173.1 598.2 172.5 600.2C171.9 602.3 171.5 604.2 172.5 606.5C173.5 608.8 177.1 611.1 178.8 614C180.4 616.9 181 621.1 182.5 624C184 626.9 185.4 629 187.5 631.5C189.6 634 192.9 636.5 195 639C197.1 641.5 198.5 644 200 646.5C201.5 649 202.9 651.2 203.8 654C204.6 656.8 204.8 659.7 205 663.5C205.2 667.3 226.2 674.8 205 677C183.8 679.2 99.2 692 78 677C56.8 662 76 601.9 78 587ZM78 543C80 539.5 86.8 543.6 90 544C93.2 544.4 95.6 544.6 97.5 545.2C99.4 545.9 101.2 546.5 101.2 547.8C101.2 549 98.3 550.5 97.5 552.8C96.7 555 97.1 559.6 96.2 561.5C95.4 563.4 93.5 563.6 92.5 564C91.5 564.4 92.4 563.8 90 564C87.6 564.2 80 568.5 78 565C76 561.5 76 546.5 78 543ZM588.8 369.5C590.2 368.5 592.3 367.8 595 368.2C597.7 368.7 602.3 370.3 605 372C607.7 373.7 610.8 375.8 611.2 378.2C611.7 380.8 609.4 383.9 607.5 387C605.6 390.1 602.5 393.9 600 397C597.5 400.1 594.6 404.9 592.5 405.8C590.4 406.6 589.2 403.5 587.5 402C585.8 400.5 583.3 399.9 582.5 397C581.7 394.1 581.9 388.2 582.5 384.5C583.1 380.8 585.2 377 586.2 374.5C587.3 372 587.3 370.5 588.8 369.5ZM633.8 369.5C634.6 368.1 637.9 365.6 640 365C642.1 364.4 645.4 364.8 646.2 365.8C647.1 366.7 646.2 369.3 645 370.8C643.8 372.2 640.4 374.1 638.8 374.5C637.1 374.9 635.8 374.1 635 373.2C634.2 372.4 632.9 370.9 633.8 369.5ZM617.5 380.8C618.8 379.9 623.3 378.9 625 379.5C626.7 380.1 627.9 383.3 627.5 384.5C627.1 385.7 624.2 386.5 622.5 386.5C620.8 386.5 618.3 385.5 617.5 384.5C616.7 383.5 616.2 381.6 617.5 380.8ZM593.8 423.2C594.8 421.8 599.4 418.9 602.5 418.2C605.6 417.6 610.4 418.5 612.5 419.5C614.6 420.5 615.4 422.8 615 424.5C614.6 426.2 612.1 428.5 610 429.5C607.9 430.5 604.8 431.2 602.5 430.8C600.2 430.3 597.7 428.2 596.2 427C594.8 425.8 592.7 424.7 593.8 423.2ZM550.3 475.1C549.9 473.8 551.7 470.4 552.7 468.9C553.8 467.3 555.8 465.3 556.6 465.8C557.4 466.3 557.6 470.2 557.3 472C557 473.8 556.2 476.2 555 476.7C553.8 477.2 550.7 476.4 550.3 475.1ZM780.9 574C781.3 572.7 782.5 570.5 784 569.3C785.5 568.1 788.4 567.2 790.2 567C792 566.8 794 567 794.9 567.8C795.8 568.6 796.2 570.4 795.7 571.7C795.2 573 793.5 574.6 791.8 575.6C790.1 576.6 787.3 577.6 785.6 577.9C783.9 578.1 782.5 577.8 781.7 577.1C780.9 576.5 780.5 575.3 780.9 574ZM113.8 567.8C114.2 567.3 118.3 569.2 120 570.2C121.7 571.3 124.2 573.6 123.8 574C123.3 574.4 119.2 573.8 117.5 572.8C115.8 571.7 113.3 568.2 113.8 567.8Z" fill="#ffff00" stroke="#d0b898" stroke-width="0.9"/>
<path d="M721.1 452.7C720.5 451.1 722.4 446.1 723.4 443.3C724.4 440.5 725.3 437.7 727.3 435.6C729.2 433.5 733 431.8 735.1 430.9C737.2 430 738.5 429.9 739.8 430.1C741.1 430.4 741.9 432.5 742.9 432.4C743.9 432.3 744.7 430.9 746 429.3C747.3 427.8 749.4 424.9 750.7 423.1C752 421.3 752.5 419.9 753.8 418.4C755.1 416.8 756.8 415.4 758.4 413.8C760 412.2 761.8 410.9 763.1 409.1C764.4 407.3 765.2 405 766.2 402.9C767.2 400.8 768 398.8 769.3 396.7C770.6 394.6 773.1 392.2 774 390.4C774.9 388.6 775.3 387 774.8 385.8C774.3 384.6 772.3 383.1 770.9 383.4C769.5 383.6 767.8 385.9 766.2 387.3C764.7 388.7 762.9 390.4 761.6 392C760.3 393.6 759.5 395.1 758.4 396.7C757.3 398.2 756.3 399.8 755.3 401.3C754.3 402.9 753.5 404.7 752.2 406C750.9 407.3 749.4 408.2 747.6 409.1C745.8 410 742.6 411.4 741.3 411.4C740 411.4 739.8 410.3 739.8 409.1C739.8 407.9 740.3 405.9 741.3 404.4C742.3 402.8 744.2 401.6 746 399.8C747.8 398 750.1 395.7 752.2 393.6C754.3 391.5 756.6 389.1 758.4 387.3C760.2 385.5 761 384.2 763.1 382.7C765.2 381.1 768.3 379.3 770.9 378C773.5 376.7 776.1 375.8 778.7 374.9C781.3 374 784.3 372.6 786.4 372.6C788.5 372.6 789.3 374.6 791.1 374.9C792.9 375.1 795.5 374.9 797.3 374.1C799.1 373.3 800.2 371.4 802 370.2C803.8 369 806.1 367.8 808.2 367.1C810.3 366.5 812.5 365.9 814.4 366.3C816.3 366.7 819.1 368.2 819.9 369.4C820.7 370.6 820.3 372.1 819.1 373.3C817.9 374.5 815 375.5 812.9 376.4C810.8 377.3 809 378 806.7 378.8C804.4 379.6 801.2 379.9 798.9 381.1C796.6 382.3 794.5 384 792.7 385.8C790.9 387.6 789.8 389.9 788 392C786.2 394.1 783.9 396.1 781.8 398.2C779.7 400.3 777.4 402.3 775.6 404.4C773.8 406.5 772.5 408.6 770.9 410.7C769.3 412.8 767.8 414.8 766.2 416.9C764.7 419 763.4 421.3 761.6 423.1C759.8 424.9 757.4 426.5 755.3 427.8C753.2 429.1 751 429.9 749.1 430.9C747.2 431.9 745 432.4 743.7 434C742.4 435.6 742.2 438.1 741.3 440.2C740.4 442.3 739.5 444.7 738.2 446.4C736.9 448.1 735.4 449.2 733.6 450.3C731.8 451.4 729.4 452.3 727.3 452.7C725.2 453.1 721.8 454.3 721.1 452.7ZM779.4 448.8C779.1 447.8 780.6 445.5 781.8 443.3C783 441.1 785.1 438.2 786.4 435.6C787.7 433 788 429.9 789.6 427.8C791.2 425.7 793.7 424 795.8 423.1C797.9 422.2 800.5 422 802 422.3C803.5 422.6 804.7 423.3 805.1 424.7C805.5 426.1 804.9 428.8 804.3 430.9C803.6 433 802.4 435 801.2 437.1C800 439.2 799 441.5 797.3 443.3C795.6 445.1 793.4 446.9 791.1 448C788.8 449.1 785.2 449.5 783.3 449.6C781.3 449.7 779.6 449.9 779.4 448.8ZM680 262.5C680.4 261.3 683.3 260.9 685 260.5C686.7 260.1 689 259.5 690 260C691 260.5 691.5 262.7 691 263.8C690.5 264.8 688.4 265.9 687 266.5C685.6 267.1 683.7 268.2 682.5 267.5C681.3 266.8 679.6 263.7 680 262.5ZM112.5 602.8C112.9 601.6 115 601.3 116.2 601.5C117.5 601.7 119.8 602.8 120 604C120.2 605.2 118.5 608.2 117.5 609C116.5 609.8 114.6 609.5 113.8 608.5C112.9 607.5 112.1 603.9 112.5 602.8ZM98.5 603C99 602.9 101.2 605 101.5 606C101.8 607 101 608.9 100.5 609C100 609.1 98.8 607.5 98.5 606.5C98.2 605.5 98 603.1 98.5 603ZM126 598C126.5 597.6 132.3 598.4 133 599C133.7 599.6 131.2 601.7 130 601.5C128.8 601.3 125.5 598.4 126 598Z" fill="#1efa00" stroke="#d0b898" stroke-width="0.9"/>
<path d="M732.3 516.7C732.7 514.4 734.5 512 736.2 508.9C737.9 505.8 740.8 501.4 742.4 498C744 494.6 744.5 491.2 745.6 488.7C746.7 486.2 747.2 484.4 748.7 483.2C750.2 482 752.8 481.7 754.9 481.7C757 481.7 759 482.3 761.1 483.2C763.2 484.1 765.5 485.4 767.3 487.1C769.1 488.8 770.6 491.2 772 493.3C773.4 495.4 774.7 497.3 775.9 499.6C777.1 501.9 778.4 504.7 779 507.3C779.6 509.9 779.9 512.8 779.8 515.1C779.7 517.4 779.2 519.2 778.2 521.3C777.2 523.4 775.4 525.8 773.6 527.6C771.8 529.4 769.4 531.2 767.3 532.2C765.2 533.2 763.2 533.3 761.1 533.8C759 534.3 756.7 534.4 754.9 535.3C753.1 536.2 751.8 538 750.2 539.2C748.7 540.4 747.2 541.5 745.6 542.3C744 543.1 742.3 544 740.9 543.9C739.5 543.8 737.9 543 737 541.6C736.1 540.2 735.5 537.6 735.4 535.3C735.3 533 736.5 529.7 736.2 527.6C736 525.5 734.5 524.7 733.9 522.9C733.2 521.1 731.9 519 732.3 516.7Z" fill="#ffd700" stroke="#d0b898" stroke-width="0.9"/>
<path d="M332.5 128L332.5 153L335.6 153.6L335.6 158L332.5 160.5L332.5 171.8L335.6 173.6L346.2 175.5L350.6 178L360.6 179.2L363 184.2L363 195.5L366.2 198.6L371.2 200.5L376.9 203L377.5 209.2L371.2 211.8L370.6 218L385 219.9L393.8 221L393.8 226L397.5 231.6L406.2 234.1L407.5 243.5L416.2 246L417.5 252.9L425 254.8L430 257.2L431.2 261L447.5 264.8L455 264.8L455 272.2L462.5 273.5L467.5 276L473.8 278.5L485 279.1L497.5 279.8L498.8 281.6L507.5 283.5L510 284.8L510 268L520 268L531 267.5L531 270L540 270L540 267L548.5 266L549 259L556 256L568 253L577 249.5L583 244L583 238L581 233.5L569 234L561 231.5L553 227L546 222L541 216.5L533.5 210.5L526 205.5L519 197.5L513.5 191L512 184L509 181L507 177L508 170L503 160L497 150L490 146L484 151.5L478.5 146L477.5 128ZM515.6 273.3L528 273.3L528 280.3L533.4 283.4L533.4 294.3L510.1 294.3L510.1 288.1L515.6 286.6ZM586 239L612.5 239L612.5 249L600 249L600 254L586 254ZM728.7 581.8L738.8 581.8L738.8 579.4L764.4 579.4L764.4 589.6L755.9 589.6L755.9 598.9L737.2 598.9L737.2 605.9L726.3 605.9L726.3 611.3L720.9 611.3L720.9 614.4L710.8 614.4L710.8 625.3L696 625.3L696 621.4L686.7 621.4L686.7 626.1L676.6 626.1L676.6 632.3L664.9 632.3L664.9 619.9L674.2 619.9L674.2 610.6L697.6 610.6L697.6 603.6L710.8 603.6L710.8 597.3L725.6 597.3L728.7 591.1ZM818.7 532.2L838.1 532.2L838.1 543.1L828.8 543.1L828.8 550.1L818.7 550.1ZM744 677L746 661L752 655L758 647L785 645L785 637.8L791.8 637.8L791.8 631.6L803.4 631.6L803.4 637.8L831.4 639.3L831.4 661.1L828.3 677ZM687 128L687 142.5L700 143.5L715 144.5L730 143.5L737 142L737 128Z" fill="#fff"/>
<path d="M448 163L451.5 161.8L455 160.5L461.2 163.5L467.5 158.5L469 152L473.8 148.5L481.2 155.5L488.8 150.5L492.5 154.2L497.5 163L502.5 170.5L501.9 174.2L497.5 171.8L495 176.8L498.8 181.8L505 183L507.5 185.5L508.8 193L515 200.5L522.5 209.2L530 214.2L537.5 220.5L542.5 226L550 231L558.8 236L567.5 238.5L578.8 237.9L578.8 241L576.2 246L572.5 249L567.5 248.5L563.8 250.4L558.8 249.8L555 252.9L547.5 254L542.5 253.5L539.4 252.2L536.2 251L532.9 251.6L530 249.8L526.9 249.4L523.6 249.6L520.4 249.6L517.5 247.9L514.5 246.7L511.1 247.8L508.1 246.5L505 246L502 245.8L499.1 246.7L496.2 247.2L493.5 245.7L491.2 243.5L488.1 244.1L485 244.8L482.4 246.2L480 247.9L476.7 246.2L473 246L469.6 247.5L466 247L463.1 245.6L460 244.5L455 245L452 249L451.1 252.3L449 255L446.1 256.1L443 256L442.1 253.1L440 251L436 253L435 250L434 247L429 248L428.7 245L428 242L423 243L423.2 239.9L422 237L417 238L417 234.7L415 232L410 232L409 227L404 227L403.4 224L403 221L398 221L397 216L392 216L391.8 213L391 210L386 210L385 205L380 205L379.5 202L379 199L374 200L373.5 197L373 194L368 194L367.5 191.3L366 189L365 186L368.5 186.4L372 187L374.6 187.8L377.3 188.3L380 189L382.4 190.8L385.2 190.8L388 191L390.4 192.8L393 193.8L396 193.5L399.2 194.2L402 196L405 197.1L408 198L410.4 201L414 202L416.5 204.7L420 206L423.2 207.2L425.9 209.2L428 212L430.1 213.9L432.8 215.2L434 218L436.1 219.9L437.9 221.9L438.1 225L440 227L441.5 229.2L443.3 231.1L446 232L449.1 231.6L452 233L454.9 231.4L457 229L460 222L459 213L457.9 209.3L456 206L453.3 204.1L452 201L455 199.2L462.5 196.8L471.2 193L476.2 188L473.8 184.2L455 186.8L452.4 184.5L449 184L448.6 180.5L446 178L444.9 175.4L446.5 172.5L445 170L446.3 166.4ZM440 196L444 193.5L448 196L450.5 199.1L451 203L452.5 205.9L451.2 209.1L452 212L451.4 214.6L451.6 217.3L448.7 219.2L449 222L446.7 224.8L445 228L443.6 225.4L441 224L439.3 220.9L440.6 217.2L439 214L437.5 210.8L439.3 207.2L438 204L438.6 201.3L438.9 198.6ZM371 128L371.3 131L371.5 134L369.7 137L371.9 140L371 143L374 146L371 150L373.2 152L376 153L373 157L375.3 158.8L378 160L376 164L379.1 164.5L381 167L379 171L381.6 173.3L385 174L384 178L386.5 180.4L390 181L389 185L392.4 186.8L396 188L397.6 190.4L400 192L405 193L406.9 196.1L410 198L413 198.9L415 201.4L417.5 203L420.3 203.6L422.9 205.1L425.8 205.6L428.8 205.5L431.5 203.5L433.1 200.6L435 198L436.4 194.8L436.3 191.4L436.2 188L436.8 185.3L435.5 182.6L435 180L435.3 177.3L435.9 174.6L435.2 171.9L436.2 169.2L438 166.1L438.2 162.6L439 159.2L442.2 157.9L445 156L447.6 155.3L450.2 154.4L452.5 153L455 152L468.8 150.5L472 146L471 141L471 128L468.4 129.3L465.7 127.2L463.1 127.4L460.5 128L457.8 127.9L455.2 127.6L452.6 129.1L449.9 127.4L447.3 128.6L444.7 129.1L442.1 128.6L439.4 127.4L436.8 128.8L434.2 127.4L431.5 126.8L428.9 128L426.3 128.3L423.6 128.1L421 127.5L418.4 127.3L415.7 127.7L413.1 127.6L410.5 129.1L407.8 128.9L405.2 128.6L402.6 127.4L399.9 128.5L397.3 127.8L394.7 129.3L392.1 129.1L389.4 128.6L386.8 127.6L384.2 127.5L381.5 127.5L378.9 128.5L376.3 128L373.6 128.1ZM356.2 151.8L357.7 148.4L360 145.5L363.5 145.1L366.2 143L371.2 141.8L372.5 146.8L371.5 149.5L368.8 150.5L371.2 154.2L368.9 155.7L367.5 158L365.4 156L362.5 155.5L358.8 156.8L356.6 154.7ZM348.8 149.2L351.9 151.8L351.2 154.2L348.8 152.4ZM340 128L339.7 130.8L338.9 133.5L338.9 136.2L339.9 139L340 141.8L342.5 143.6L347.5 144.9L348.8 141.8L349.3 139L347.6 136.2L349.4 133.5L348.6 130.8L348.8 128L345.8 127.3L342.9 127.6ZM342.5 158.6L346.2 160.5L348 162.5L349.4 164.8L351.2 166.8L354.2 166.4L356.3 168.1L358.8 169.2L360.9 171.1L363.5 171.7L366.2 171.8L367.8 174.1L369.6 176L372.5 176.8L375.2 177L377.8 177.5L380 179.2L382.7 180.1L384.3 182.4L386.3 184.3L388.8 185.5L391.1 188.2L394.3 189.3L397.5 190.5L400 193L395 191.8L392.2 190.1L389.4 188.6L386.2 188L384 186.5L382 184.8L379 184.3L377.5 181.8L375.2 180.2L372.3 180.7L370 179.2L368.1 176.7L365.2 175.6L362.5 174.2L358.7 174.1L355 173L351.4 172L348.8 169.2L346.4 167.1L345 164.2L344.1 161.3ZM354 180L358 178L360 180L356 183ZM460 248.5L462.8 247.7L465.6 248L468.4 248L471.2 247.9L473.8 249.7L477.1 248.7L479.5 251L482.5 251L485.2 251.6L488 251.8L490.8 251.7L493.5 251.3L496.2 251L498.4 252.6L500 254.8L498.5 257L496.2 258.5L493.9 260.1L491.2 261L494.2 262.3L497.5 262.2L500.7 263.2L502.5 266L498.8 267.2L501.8 269.2L503.8 272.2L505.9 274.7L508.8 276L509.4 279.1L508.8 282.2L505 281L502.7 279L502.5 276L497.5 274.8L494.5 274.6L492.5 272.2L488.8 274.8L487 272.8L485 271L485.8 268.3L487.5 266L485.6 263.6L482.5 263.5L479.9 264.7L478.8 267.2L480 272.2L476.2 273.5L475.3 270.7L472.5 269.8L469.7 269L467.5 267.2L463.8 268.5L460.9 265.9L460 262.2L462.6 259.5L466.2 258.5L463.1 257.3L460 256L460.5 252.2ZM503.8 251L506.4 250.7L509.1 250.4L511.7 250.8L514.2 253L516.9 252.2L519.4 253.3L522.2 252.1L524.7 253.5L527.4 252.7L530 253L531.2 255.6L531.2 258.5L528.8 261.3L527.5 264.8L523.8 265.4L521.2 261L518.2 261.2L516.2 263.5L513.2 264.1L510.5 262.4L507.5 262.2L506.5 259.6L505 257.2L503.7 254.3ZM531 263.5L534 262.5L537.5 263.5L537.5 267L534 268L531.5 267ZM542.5 262L547.5 260L547 263.5L544 265.5ZM516.2 274.8L518.8 275.4L517.5 279.8L515.6 278.5ZM520 282.2L523.1 278.5L526.2 282.2L527.3 285L530 286L531.2 291L527.5 291L525 287.2L521.2 286ZM511.2 289.1L514.2 289.2L517.1 289.5L520 288.5L519.4 291.6L516 292.5L512.5 291.6ZM589.5 243L592 244.5L595 242L598 243L600 241L604 242.5L608 241L612 241.2L611.2 243.8L607 244L605 245L602 244.5L600 246.2L597 246L595 248L592 247L590 247.5L590.1 245.2ZM733.3 591.1L734.6 588.6L736.4 586.4L738.5 585.3L740.8 584.7L742.7 583.3L744.9 582.9L746.7 581.4L748.9 581L751.9 579.9L755.1 579.4L757.7 579.3L760.3 579.4L762.9 579.4L764.4 583.3L762.2 585L759.8 586.4L757.6 587.6L755.1 588L753.7 589.8L751.8 591L750.4 592.7L748.2 591.5L745.8 591.1L744.6 593L742.6 594.2L741.1 595.8L738.8 595.1L736.4 595L734.5 593.4ZM725.6 598.1L728.1 597.3L730.2 595.8L732.4 596.6L734.1 598.1L733.3 601.2L731 601.5L728.7 602L727.2 600ZM713.9 604.3L717.8 602.3L721.7 604.3L720.1 607.4L716.2 606.7ZM706.9 608.2L710 607.9L713.1 607.4L714.8 608.9L716.2 610.6L713.1 612.9L710.7 611.8L708.4 610.6ZM676.6 616L679.5 615.6L682.3 614.9L685.1 614.4L686.1 612.2L686.7 609.8L688.3 612.1L689.8 614.4L692.4 613.8L694.9 612.9L697.6 612.9L700 610.6L702.2 608.2L705.3 611.3L704.6 613.7L703.8 616L707 616.5L710 617.6L707.3 618.4L704.7 619.4L702.2 620.7L699.1 623.8L697.5 621.5L696 619.1L693.6 619.1L691.3 618.4L689 618.4L686.7 617.6L684.2 618.8L681.5 619.2L678.9 619.9L677.4 618.2ZM668 624.6L669.9 623.3L671.9 622.2L675.8 623L673.4 626.1L669.6 627.2ZM640.8 639.3L642.1 637.2L643 634.9L644.7 633.1L646.7 632.1L648.6 630.8L648.2 633.6L647 636.2L645.3 637.6L643.7 639.1L642.3 640.9ZM650.1 651.8L652.5 651L654.8 650.2L657.9 653.3L655.6 656.4L653.2 656.5L650.9 655.7ZM818.7 536.9L821 536.5L823.3 536.1L826.5 536.8L829.6 537.7L831.9 538.2L834.3 537.3L836.6 537.7L836.6 539.7L834.2 539.4L831.9 539.4L829.6 540L826.4 541.6L824.9 545.4L822.6 546.2L821.6 544.1L820.2 542.3L819.8 539.5ZM849 546.2L849.8 543.4L851.3 540.8L853.7 537.7L853.2 540.4L853.7 543.1L852.5 545.5L851.3 547.8ZM789.4 639.3L791.7 638.1L793.3 636.2L795.9 636.7L798.5 635.8L801.1 636.2L804.2 639.3L802.4 641.5L801.1 644L798.5 644.7L796.4 646.3L793.9 645.6L791.8 644L790.5 641.7ZM791.8 654.9L793.5 653.2L794.6 651L796.4 649.4L799.2 648.8L801.5 647.1L804.2 646.3L806.6 646.3L808.8 645.2L811.3 645.2L813.6 644.8L816 646L818.8 646L821.3 647.1L823.5 647.9L825.5 649.2L827.6 650.2L828.3 654.1L825.7 655.4L822.9 656.4L820.3 656.7L817.7 656.3L815.1 655.7L812 655.7L808.9 654.9L806.3 655.6L804.2 657.2L801.8 658.2L799.6 659.6L797.1 659.9L794.9 661.1L792.8 660.3L791 658.8ZM799.6 677L799.6 661.9L802 661.4L804.2 660.3L807.4 660.3L810.4 661.1L811.2 663.9L811.2 677ZM748 677L749 664L753 659L754.7 657.2L756.4 655.4L758 653.5L759.9 652.4L762.2 651.9L764 650.5L766.7 650.1L769.3 649.6L772 649L774 650.3L776.6 650.5L778.6 651.8L779.3 654.3L780.9 656.4L780.4 658.7L780.1 661.1L781 677ZM786.3 647.1L789.4 645.3L790.2 647.1L787.9 649.4ZM360 157L362.9 158.1L366 158.5L368.5 160.7L371 163L374.4 163.4L377 165.5L378.7 168.8L382 170.5L385.4 171.9L388 174.5L390.7 176.1L392 179L388 181L384.5 180.2L382 177.5L379.2 175L376 173L373.4 170.6L370 170L367.4 167.2L364 165.5L361.3 163.4L359 161ZM337 146L340 145L343 148L341 151L338 150ZM344 152.5L347 151.5L349 155L346 157ZM351 144L355 143L357 146.5L353 148.5ZM335.5 161L338 160L340 163.5L337 165ZM339 168L342 167L345 170.5L341 172ZM370.2 196.9L370.4 197.6L369.8 198.1L368.8 197.8L369.1 197ZM382.3 215.7L382.6 214.1L383.7 214.1L384.6 215L383.9 215.9ZM381.5 216.8L380.3 215.6L382.4 215.1L384 215.6L383.5 216.8ZM415.6 243.6L416 242.4L416.9 241.6L418.1 242.3L418.8 243.1L418.5 243.8L417.7 244.5L416.3 244.3ZM426.2 251.3L424.5 251.1L423.6 249.9L425.2 248.9L427.1 249.4L427.4 250.4ZM427.2 251.3L426.1 250.8L426.6 250.1L428 250L428.4 251.1ZM436.4 254.6L437.9 255.5L436.9 256.7L435.3 257L433.7 256.5L434 255.1L434.9 254.4ZM353.6 160.9L351.6 161.2L350.8 160.2L351 158.4L353.1 159.3ZM357.8 161.7L358.8 162.4L359.9 163L359.2 164L357.7 164.2L356.3 163.4L356.2 162.6ZM351.3 171.1L350.6 172L348.5 171.9L348.8 169.8L350.8 170.1ZM360.9 176.3L361.1 175.2L361.8 174.8L362.8 175L363.4 175.8L363.4 176.5L362.2 177.1L361.1 177.1ZM345.9 149.1L346.6 150.3L345.2 151.4L343.3 150.7L343.6 149.3ZM351.9 147L350.9 146.5L351.2 145.8L351.5 145L352.4 145.1L353.3 145.9L352.9 146.5ZM376.3 185.2L376.8 186.2L375.6 186.8L374.3 187L373.3 186.3L373.6 185.5L374.9 184.4ZM382 188.5L381.9 187.7L383.2 186.9L384 187.9L383.9 189ZM348.9 158.1L347 157.6L347.3 156.1L349.1 156.2L350.2 156.6L350 157.5Z" fill="#fcdcaa" stroke="#000" stroke-width="0.85" stroke-linejoin="round"/>
<path d="M450.7 161.2L451.5 164.2L452.1 165.6L452.4 163.9L452.1 160.7M540.5 253.4L540.5 249.7L538.3 246.3L539.4 249.2L538.5 252.6M534.2 251.3L532.1 246L531.1 242.7L531.1 245.8L532.5 251M512.9 247.9L510.8 242.8L507.8 238.8L509.1 242.5L510.2 247.5M501.3 247.3L501.5 244L501.8 241.9L500.5 244.2L499.6 247.5M494.3 246.6L495.2 241.9L494.4 239.1L494.5 241.3L493.1 245.7M489.2 244.7L489.1 241.5L487.7 239.3L487.8 241.7L487.2 245.1M477.6 248.1L477.7 243.9L478.4 240.8L476.1 243.5L474.9 247.3M463.2 246.7L465.5 244.2L466.6 241.6L464.5 243.8L461.7 246M441.4 254.8L445.5 251.6L448 250.5L444.8 250.4L440.2 252.8M434.9 251.8L437.6 246.4L439.6 244.7L437.1 245L434.1 249.4M427.8 245.7L431.5 246.5L433.8 245.2L431.4 245.7L427.6 244.3M426.2 243.1L427 240.5L425.9 239.2L426 240.7L424.6 243.5M421 238L419 234.4L418.7 231.9L417.3 234.8L418.2 238.6M415.7 236.7L418.5 235.4L420.8 232.4L418 233.8L414.9 234M413.8 232.8L412.1 229.7L411.1 227.8L410.8 229.7L411.7 232.8M409 230.9L412.2 228.6L414.7 227.6L411.9 227.2L408.5 228.6M397 219.8L402.1 220.3L405.8 219.7L401.7 218.7L396.4 217M395.1 216.8L396.6 214L395.1 212.4L395.7 214L393.6 216.8M391 214.2L393.8 212.8L395.3 209.7L393.7 212L390.8 212.8M389.3 210.7L391 208.4L389.9 207.2L389.6 208.4L387 210.7M385.1 209.3L387.6 206.7L389.6 204.3L387.3 205L384.6 206.6M383.8 205.7L382.9 203.3L380.9 201.9L381.7 203.3L381.9 205.7M378.9 202.8L381.4 203.2L382.4 203.2L381.2 201.9L378.6 200.6M377.6 200L378 196.1L378.8 193.8L376.4 196.4L374.8 200.5M372.9 198L375.6 198.5L377.4 197.7L375.4 197.2L372.5 195.8M375.4 187L374 191.1L375.6 194.1L374.8 191.3L376.8 187.4M383.5 189.2L381.8 192.9L378.9 195L383.1 193.2L385.6 189.7M398.3 193.6L397.6 197.1L398.7 199.1L398.5 197.5L399.8 194.3M417 203.1L413.9 206.6L411.4 208L414.7 207.1L418.3 204M437.2 221.5L435 223.7L433 223.4L435.6 224.7L438.3 223.1M442.8 228.4L438.8 229.3L437.9 231.3L440 230.2L444.7 230.1M448.6 231.7L447.1 236.6L444.7 239.7L448.1 236.8L450.2 231.9M457.3 210.8L459.4 206.9L461.6 204.7L459 206.1L456.7 209.5M452.2 186.3L456.5 182.8L458.1 179.8L455.5 182.4L450.6 185.6M447.4 182.5L450.9 178L452.2 176.5L450.3 176.9L446.5 180.6M444.9 175.4L448.8 173.5L451.2 173.9L448.6 171.8L444.5 172.6M441.2 194.4L442.2 199.8L443.4 203.6L443 199.3L442.6 193.5M445.2 193.3L443.4 196.6L444.6 198.7L444.7 197.4L447.3 194.7M449.7 197.9L447.8 198.6L447 201.3L448.4 199.9L450.6 200.1M443.8 227.7L444.6 224.9L444 221.5L443.5 223.8L441.9 225.8M439.4 219.7L444.9 219.2L448.3 220.6L444.7 218.1L439 218M372.4 146.8L375.1 148.1L375.4 150.4L374.5 148.9L371.3 148.2M372.4 151.8L374.4 148.7L374.8 147.5L375.4 149.3L374.1 152.7M376.7 160.8L380.8 164.8L383.4 165.7L380.3 165.7L375.9 162.4M377.2 165.7L380.7 161.1L382 158.4L381.8 161.8L379.1 166.8M385.4 179.6L389 175.7L392.2 173.5L390.3 176.3L387.6 180.6M389 182L391.9 180.7L393.1 182L391.5 182.2L388.4 184.5M390.8 186.5L394.6 183L398.6 181.2L395.9 183.6L393 187.5M397 190L398.2 187.6L400.1 184.6L399.1 188.5L398.5 191.5M412.7 200.7L413.7 195.4L416.8 192.3L414.7 196.1L414.3 201.8M422.2 204.8L420.5 200.7L422.2 198.3L421.8 201L424.3 205.3M432.2 202.4L428.3 202.3L426.5 201L428.8 201.6L433.1 201.3M357.3 148.7L359.7 149.7L360.1 151.8L360.2 148.8L358.1 147.2M361.8 144L362.1 148L363.1 150L363.8 147.3L364.5 142.9M357.2 155.5L361.1 153.5L362.7 151.3L360.6 152.5L356.4 153.8M339.2 133.5L342.9 133.2L345.2 134.2L342.9 135L339.2 136.5M340.6 143L341.9 139.5L341.6 138L342.7 140L341.8 143.9M348.6 144.4L345.5 141.6L343.9 141.6L345.8 140.6L349.2 142.8M368.9 172.9L369.4 176L368.3 178.1L370.2 176.7L370.3 174M382.8 186.5L384.1 183.6L383 181.7L382.7 182.6L380.4 184.8M359.9 174.6L359.2 171L358.1 169L357.9 170.8L357.9 174.2M354.7 182.4L357.7 180.9L358.9 179.6L357.2 180.2L353.9 181.3M497.5 251.1L496.8 254L496.1 256.8L498.1 255.2L499.5 253.2M499.3 256.6L497.3 253.8L494.9 251.6L496.4 254.6L497.8 258M493.4 260.6L494.3 263.1L494.4 264.8L495.5 263.3L495.4 261M509.5 278.4L506.5 277.8L504.6 277.8L506.5 278.9L509.5 280.3M507.9 282.8L506.8 279.9L507.8 277.4L505.4 279.4L505.5 282M503.3 279.1L506.9 280.4L508 279L506.5 279.5L502.6 277.7M487 274L490.6 272.5L490.9 271.8L489.5 271.4L485.2 272.2M485.1 269L488.1 270.3L491.3 269.8L488.6 269.4L485.9 267.5M486.3 266.2L486.6 260.5L485 256L485 259.7L483.7 264.9M479.3 273.3L476.9 270.7L477 269.8L475.7 271.1L477.5 273.9M474.9 273.1L475.1 267L476.1 263.4L474.2 266.1L473.5 271.7M471.3 269.9L471.3 266.8L469.8 265.3L469.8 266L468.8 268.7M461.7 266.4L465.2 265.5L466.5 265.5L464.4 264.3L460.5 264.3M461.3 260.7L465.9 261.6L467.4 262.3L467.2 260.8L463.5 259.4M459.2 253.7L462.4 253.4L464.4 252.1L462.4 251.6L459.2 250.8M515.7 251.1L516.7 254.4L517 256.4L518.2 254.5L518 251.3M527.1 265.6L524.9 261L522.3 257.7L523.5 261.3L524.8 266M522.4 264.5L523.8 261.6L525.5 259.9L523.4 260.8L521.6 263.1M519.6 262.5L520.5 259.4L519.5 256.9L519.3 260L517.7 263.5M503.9 255.3L507.5 256.9L510.1 255.2L507.1 255.3L503.3 252.6M531.1 262.7L533.6 264.7L534.9 266L534.6 264.3L532.9 262.1M534.6 261.9L534 264.3L535.5 266.1L535.4 264.7L537 262.5M530.6 266.2L533.6 266.6L535.2 265.6L533.4 265.4L530.3 264.2M528.2 283.1L524.7 285.7L524.5 286.2L525.4 286.5L529.4 284.3M531 291.7L528.4 289.2L527.2 287.7L527 289.2L528.7 291.7M524.2 287.8L525.9 284.5L524.7 282.2L524.3 283.9L521.5 286.9M379.6 176.5L379.2 174L379.2 172.2L378.5 173.4L378.3 175.6M361.4 164.2L364.8 162.4L365 160.6L364.2 161.8L360.3 163.3M358.4 160.2L362.2 160.3L364.6 158.5L362.6 158.9L359 157.9M337.3 145.1L337.7 147.3L338.9 148.5L339 146.8L339.5 144.3" fill="#fff" stroke="#000" stroke-width="0.55" stroke-linejoin="round"/>
<path d="M388.8 150.5L400 151L412 150.5L422.5 153L417.5 156.8L405 155.5L400 161.8L393.8 160.5L392.5 154.2ZM405 174.2L410 169.2L422.5 161.8L430 162.4L431.2 166.8L426.2 173L417.5 176.8L410 178L407.5 185.5L403.8 184.2L407.5 178Z" fill="#fff" stroke="#000" stroke-width="0.6" stroke-linejoin="round"/>
<path d="M468 228L472 233L478 236L484 238M462 238L466 241L465 236M476 228L479 231L477 234M404 210L408 207L412 211L416 208M425 228L429 225L432 230L436 227M444 236L447 240L451 238M376 150L382 154L380 158L386 161L384 166L390 170L394 176L399 181M380 145L386 148L384 152M470 252L474 256L472 260L476 263M488 253L486 257L490 259" fill="none" stroke="#000" stroke-width="0.6" stroke-linejoin="round"/>
<path d="M346 155L348.4 156.8L350.6 159L353.5 160.2L355.8 162.3L358.4 164.1L361.9 164.3L364.2 166.7L367 167.9L370.1 169L372.1 172L375.5 172.5L378 174.5L380.6 176.6L383 178.9L386.1 180.4L389.1 181.9L391.8 183.5L394.8 184.7L396.8 187.6L399.8 188.9L402.8 189.8L405.5 191.3L407.8 193.4L410.1 195.4L412.1 197.8L414.6 199.6L417.2 201.2L420.2 202.2L422.7 204.9L425.8 206.8L428.9 208.6L432.6 211.3L437.2 212.1" fill="none" stroke="#000" stroke-width="2.9" stroke-linejoin="round" stroke-linecap="butt"/>
<path d="M433 211L434.8 214.1L434.9 217.8L436.1 221.1L437.5 224.5L439.5 227.5L440.4 231L441.6 233.9L444.1 236L445.1 238.9L447.9 242.2L450.3 245.8" fill="none" stroke="#000" stroke-width="2.6" stroke-linejoin="round" stroke-linecap="butt"/>
<path d="M452.5 200L453.4 203.3L454.7 206.5L455.2 209.9L456.1 213.6L455.7 217.4L456.9 220.9L455.6 224.3L456 227.7L455.4 231.1L452.4 233L451.2 236.2" fill="none" stroke="#000" stroke-width="2.8" stroke-linejoin="round" stroke-linecap="butt"/>
<path d="M455 245.8L457.9 246.9L460.9 247.1L463.9 247.4L467.1 246.4L470 247.3L473.1 247L475.9 248.8L478.9 249.1L482 249L485 249.2L488 249L491 249.9L494 249.4L497 249.8L500 249.3L503 249.2L506 249L509 250.2L512 250L515 249.7L517.9 251.1L521.1 250.4L524 251L527.1 251L530 251.8L533.1 253.3L536.5 253.1L539.7 253.5L542.8 254.8L546 255.3" fill="none" stroke="#000" stroke-width="2.4" stroke-linejoin="round" stroke-linecap="butt"/>
<path d="M398 200L399.8 202.8L403.2 204.2L404.7 207.3L407.6 208.8L408.5 212.1L410.9 214.1L413.4 216L415 218.6L417.1 220.9L419.3 223L421.4 225.3L423.1 227.9" fill="none" stroke="#000" stroke-width="1.9" stroke-linejoin="round" stroke-linecap="butt"/>
<path d="M380 193L382.4 196.6L385.7 199.3L388.5 202.5L392.3 204.7" fill="none" stroke="#000" stroke-width="1.8" stroke-linejoin="round" stroke-linecap="butt"/>
<path d="M346 155L348.4 156.8L350.6 159L353.5 160.2L355.8 162.3L358.4 164.1L361.9 164.3L364.2 166.7L367 167.9L370.1 169L372.1 172L375.5 172.5L378 174.5L380.6 176.6L383 178.9L386.1 180.4L389.1 181.9L391.8 183.5L394.8 184.7L396.8 187.6L399.8 188.9L402.8 189.8L405.5 191.3L407.8 193.4L410.1 195.4L412.1 197.8L414.6 199.6L417.2 201.2L420.2 202.2L422.7 204.9L425.8 206.8L428.9 208.6L432.6 211.3L437.2 212.1" fill="none" stroke="#fff" stroke-width="1.7" stroke-linejoin="round" stroke-linecap="round"/>
<path d="M433 211L434.8 214.1L434.9 217.8L436.1 221.1L437.5 224.5L439.5 227.5L440.4 231L441.6 233.9L444.1 236L445.1 238.9L447.9 242.2L450.3 245.8" fill="none" stroke="#fff" stroke-width="1.4" stroke-linejoin="round" stroke-linecap="round"/>
<path d="M452.5 200L453.4 203.3L454.7 206.5L455.2 209.9L456.1 213.6L455.7 217.4L456.9 220.9L455.6 224.3L456 227.7L455.4 231.1L452.4 233L451.2 236.2" fill="none" stroke="#fff" stroke-width="1.6" stroke-linejoin="round" stroke-linecap="round"/>
<path d="M455 245.8L457.9 246.9L460.9 247.1L463.9 247.4L467.1 246.4L470 247.3L473.1 247L475.9 248.8L478.9 249.1L482 249L485 249.2L488 249L491 249.9L494 249.4L497 249.8L500 249.3L503 249.2L506 249L509 250.2L512 250L515 249.7L517.9 251.1L521.1 250.4L524 251L527.1 251L530 251.8L533.1 253.3L536.5 253.1L539.7 253.5L542.8 254.8L546 255.3" fill="none" stroke="#fff" stroke-width="1.2" stroke-linejoin="round" stroke-linecap="round"/>
<path d="M398 200L399.8 202.8L403.2 204.2L404.7 207.3L407.6 208.8L408.5 212.1L410.9 214.1L413.4 216L415 218.6L417.1 220.9L419.3 223L421.4 225.3L423.1 227.9" fill="none" stroke="#fff" stroke-width="0.7" stroke-linejoin="round" stroke-linecap="round"/>
<path d="M380 193L382.4 196.6L385.7 199.3L388.5 202.5L392.3 204.7" fill="none" stroke="#fff" stroke-width="0.6" stroke-linejoin="round" stroke-linecap="round"/>
<path d="M493.1 155V247" stroke="#9a9280" stroke-width="0.6" fill="none"/>
<circle cx="690.1" cy="634.7" r="2.3" fill="#3a5a2a" stroke="#000" stroke-width="0.9"/>
<path d="M114.6 153.6V664M139.3 153.6V664M163.9 153.6V664M188.5 153.6V664M213.2 153.6V664M237.8 153.6V664M262.5 153.6V664M287.1 153.6V664M311.7 153.6V664M336.4 153.6V664M361 153.6V664M385.6 153.6V664M410.3 153.6V664M434.9 153.6V664M459.5 153.6V664M484.2 153.6V664M508.8 153.6V664M533.5 153.6V664M558.1 153.6V664M582.7 153.6V664M607.4 153.6V664M632 153.6V664M656.6 153.6V664M681.3 153.6V664M705.9 153.6V664M730.5 153.6V664M755.2 153.6V664M779.8 153.6V664M804.5 153.6V664M829.1 153.6V664M853.7 153.6V664M878.4 153.6V664M92.1 169.3H903M92.1 210.6H903M92.1 252.9H903M92.1 296.2H903M92.1 340.7H903M92.1 386.4H903M92.1 433.4H903M92.1 481.8H903M92.1 531.7H903M92.1 583.2H903M92.1 636.4H903" stroke="#000" stroke-width="1.8" stroke-dasharray="1.8 4.2" fill="none"/>
</g>
<path d="M92.1 141.0H904.0M92.1 664.0H904.0M90.0 143.1V665.0M903.0 143.1V665.0" stroke="#000" stroke-width="1.8" stroke-dasharray="1.8 4.2" fill="none"/>
<rect x="90.0" y="141.0" width="813.0" height="523.0" fill="none" stroke="#000" stroke-width="0.9"/>
<path d="M548.2 264.8L580.9 325L657.6 480L705.8 584.2" stroke="#0000e6" stroke-width="2.2" stroke-dasharray="6.5 3.4" fill="none"/>
<path d="M92 141L93.3 144.3L94.2 143.4L93.5 146.9L90.6 144.8L91.8 144.9L90.5 141.6ZM121.1 141.1L121.9 143L122.6 142.4L121.9 144.6L119.9 143.5L120.8 143.4L120 141.5ZM148 141.1L148.8 143L149.5 142.3L148.8 144.5L146.8 143.5L147.7 143.4L146.9 141.5ZM177.5 141L178.9 144.2L179.7 143.3L179.2 146.8L176.2 144.8L177.4 144.8L176 141.6ZM204.2 141.1L205 142.9L205.7 142.3L205.1 144.5L203 143.5L203.9 143.4L203.1 141.5ZM233.5 141L234.4 142.9L235 142.2L234.5 144.5L232.4 143.5L233.3 143.4L232.4 141.6ZM260.4 141L261.3 142.8L262 142.2L261.5 144.4L259.4 143.5L260.3 143.4L259.3 141.6ZM289.7 141L290.7 142.8L291.3 142.1L290.9 144.4L288.7 143.5L289.6 143.4L288.6 141.6ZM316.5 140.9L317.7 142.6L318.3 141.9L318.1 144.2L315.9 143.6L316.8 143.3L315.6 141.7ZM484.5 140.7L486.5 140.3L486.1 139.5L488.1 140.6L486.7 142.4L486.8 141.5L484.8 141.9ZM513.7 140.5L517.3 139.5L516.5 138.6L519.9 139.6L517.5 142.3L517.7 141.1L514.2 142.1ZM540.6 140.5L544.1 139.4L543.3 138.5L546.7 139.5L544.4 142.2L544.6 141L541.1 142.1ZM569.9 140.5L573.3 139.2L572.4 138.4L575.9 139.1L573.8 142L573.9 140.8L570.4 142.1ZM596.7 140.6L600.1 139L599.1 138.2L602.7 138.7L600.7 141.8L600.7 140.5L597.4 142ZM626 140.6L629.2 138.9L628.2 138.1L631.8 138.4L630.1 141.6L630 140.3L626.7 142ZM652.9 140.8L654.7 139.7L654 139.1L656.3 139.5L655.5 141.6L655.3 140.8L653.6 141.8ZM682 140.7L684.7 138.4L683.6 137.9L687.2 137.5L686.1 140.9L685.8 139.7L683.1 141.9ZM708.9 140.7L712.4 137.2L711.2 136.7L714.7 136L714 139.5L713.6 138.3L710 141.9ZM738.2 140.7L742.1 136.6L740.8 136.1L744.4 135.4L743.9 139L743.3 137.7L739.3 141.9ZM765 140.7L770.5 134.9L768.5 133.9L773.3 133L772.8 137.9L771.7 136L766.3 141.9ZM794.3 140.7L800 134.4L797.8 133.4L803 132.3L802.5 137.6L801.3 135.5L795.6 141.9ZM821.1 140.7L827.2 133.6L824.9 132.6L830.4 131.3L830 137L828.7 134.9L822.6 141.9ZM850.4 140.7L856.8 133L854.5 132.1L860 130.7L859.6 136.4L858.3 134.2L851.9 141.9ZM877.3 140.7L883.6 132.9L881.2 132.1L886.7 130.6L886.4 136.3L885 134.1L878.8 141.9ZM92 169.2L93.3 172.5L94.2 171.6L93.5 175.1L90.6 173L91.8 173.1L90.5 169.8ZM121.3 169.2L122.6 172.4L123.5 171.5L122.9 175L119.9 173L121.2 173.1L119.8 169.8ZM148.2 169.2L149.6 172.4L150.4 171.5L149.8 175L146.8 173L148.1 173.1L146.7 169.8ZM177.5 169.2L178.9 172.4L179.7 171.5L179.2 175L176.2 173L177.4 173L176 169.8ZM204.2 169.3L205 171.1L205.7 170.5L205.1 172.7L203 171.7L203.9 171.6L203.1 169.7ZM233.7 169.1L235.2 172.3L236 171.4L235.6 174.9L232.5 173.1L233.8 173L232.2 169.9ZM260.6 169.1L262.2 172.2L263 171.3L262.6 174.8L259.5 173.1L260.8 173L259.1 169.9ZM289.9 169.1L291.6 172.2L292.3 171.2L292.1 174.7L288.9 173.1L290.2 173L288.4 169.9ZM316.7 169L318.8 171.9L319.4 170.8L319.6 174.4L316.2 173.1L317.5 172.8L315.4 170ZM513.7 168.7L517.3 167.7L516.5 166.8L519.9 167.8L517.5 170.5L517.7 169.3L514.2 170.3ZM540.6 168.7L544.1 167.6L543.3 166.7L546.7 167.7L544.4 170.4L544.6 169.2L541.1 170.3ZM569.9 168.7L573.3 167.4L572.4 166.6L575.9 167.3L573.8 170.2L573.9 169L570.4 170.3ZM596.7 168.8L600.1 167.2L599.1 166.4L602.7 166.9L600.7 170L600.7 168.7L597.4 170.2ZM626.1 169L627.9 168L627.2 167.4L629.5 167.9L628.6 170L628.5 169.1L626.6 170ZM652.9 169L654.7 167.9L654 167.3L656.3 167.7L655.5 169.8L655.3 169L653.6 170ZM682 168.9L685.4 166.1L684.3 165.5L687.9 165.1L686.8 168.5L686.5 167.3L683.1 170.1ZM708.9 168.9L713.7 164L712.1 163.2L716.3 162.5L715.7 166.8L714.9 165.1L710 170.1ZM738.1 168.9L743.9 162.9L741.8 161.9L746.9 161L746.2 166.1L745.1 164.1L739.4 170.1ZM765 168.9L771.4 161.9L769.1 160.9L774.7 159.7L774 165.4L772.8 163.2L766.3 170.1ZM794.2 168.9L800.5 161.8L798.2 160.8L803.8 159.6L803.2 165.3L802 163.1L795.7 170.1ZM821.2 168.9L827 162.1L824.7 161.2L830.1 159.9L829.7 165.4L828.4 163.3L822.5 170.1ZM850.4 168.9L856.9 161.2L854.5 160.2L860 158.8L859.7 164.5L858.3 162.4L851.9 170.1ZM877.3 168.9L883.6 161.1L881.2 160.2L886.7 158.7L886.5 164.4L885.1 162.3L878.8 170.1ZM92 197.7L93.3 201L94.2 200.1L93.5 203.6L90.6 201.5L91.8 201.6L90.5 198.3ZM121.3 197.7L122.6 200.9L123.5 200L122.9 203.5L119.9 201.5L121.2 201.6L119.8 198.3ZM148.2 197.7L149.6 200.9L150.4 200L149.8 203.5L146.8 201.5L148.1 201.6L146.7 198.3ZM177.5 197.7L178.9 200.9L179.7 200L179.2 203.5L176.2 201.5L177.4 201.5L176 198.3ZM204.4 197.7L205.8 200.9L206.7 199.9L206.1 203.5L203.1 201.5L204.4 201.5L202.9 198.3ZM233.7 197.6L235.2 200.8L236 199.9L235.6 203.4L232.5 201.6L233.8 201.5L232.2 198.4ZM260.6 197.6L262.3 200.9L263 199.9L262.7 203.4L259.6 201.7L260.8 201.6L259.1 198.4ZM289.9 197.6L291.9 201.2L292.6 200.2L292.4 203.8L289.2 202.1L290.5 202L288.4 198.4ZM316.7 197.5L319.9 201.9L320.6 200.8L320.7 204.4L317.3 203.2L318.6 202.9L315.4 198.5ZM345.9 197.4L350 201.3L350.5 200L351.2 203.6L347.6 203L348.9 202.5L344.8 198.6ZM540.6 197.2L544 195.9L543.1 195L546.6 195.7L544.5 198.7L544.6 197.4L541.1 198.8ZM569.9 197.5L571.8 196.6L571.1 195.9L573.3 196.5L572.4 198.6L572.3 197.7L570.4 198.5ZM596.8 197.5L598.6 196.5L597.9 195.9L600.1 196.3L599.3 198.4L599.1 197.6L597.3 198.5ZM626 197.5L627.8 196.4L627.1 195.8L629.3 196.1L628.6 198.3L628.4 197.4L626.7 198.5ZM652.8 197.3L656 195L655 194.4L658.5 194.2L657.2 197.5L657 196.3L653.7 198.7ZM682 197.4L687.1 192.6L685.5 191.8L689.8 191.2L689 195.5L688.2 193.8L683.1 198.6ZM708.8 197.4L714.4 191.2L712.4 190.3L717.4 189.2L716.9 194.4L715.7 192.4L710.1 198.6ZM738 197.4L744.9 189.7L742.6 188.7L748.1 187.5L747.6 193.1L746.3 191L739.5 198.6ZM764.9 197.4L771.7 189.6L769.4 188.6L774.9 187.4L774.4 193L773.1 190.9L766.4 198.6ZM794.2 197.4L800.9 189.6L798.5 188.6L804.1 187.3L803.6 193L802.3 190.8L795.7 198.6ZM821.1 197.4L827.7 189.5L825.3 188.6L830.8 187.2L830.5 192.9L829.1 190.7L822.6 198.6ZM850.4 197.4L856.9 189.5L854.5 188.6L860 187.1L859.7 192.8L858.3 190.7L851.9 198.6ZM877.3 197.4L883.2 190L880.9 189.1L886.3 187.6L886.1 193.3L884.7 191.2L878.8 198.6ZM92 223.7L93.3 227L94.2 226.1L93.5 229.6L90.6 227.5L91.8 227.6L90.5 224.3ZM121.3 223.7L122.6 226.9L123.5 226L122.9 229.5L119.9 227.5L121.2 227.6L119.8 224.3ZM148.2 223.7L149.6 226.9L150.4 226L149.8 229.5L146.8 227.5L148.1 227.6L146.7 224.3ZM177.5 223.7L178.9 226.9L179.7 226L179.2 229.5L176.2 227.5L177.4 227.5L176 224.3ZM204.4 223.7L205.8 226.9L206.7 225.9L206.1 229.5L203.1 227.5L204.4 227.5L202.9 224.3ZM233.7 223.6L235.4 227.1L236.2 226.1L235.7 229.7L232.7 227.8L233.9 227.8L232.2 224.4ZM260.6 223.6L262.6 227.5L263.3 226.5L263 230L259.9 228.3L261.1 228.2L259.1 224.4ZM289.9 223.6L292.4 228.1L293.1 227.1L292.9 230.6L289.7 229L291 228.9L288.4 224.4ZM316.7 223.5L320.5 228.8L321.5 227.5L321.5 231.5L317.6 230.2L319.2 229.8L315.4 224.5ZM345.9 223.4L350 227.3L350.6 226.1L351.3 229.7L347.6 229.1L348.9 228.5L344.8 224.6ZM372.7 223.3L378.5 227.3L379 225.5L380.5 229.6L376.1 229.7L377.6 228.6L371.8 224.7ZM569.9 223.5L571.7 222.5L571 221.9L573.2 222.3L572.4 224.4L572.2 223.5L570.4 224.5ZM596.7 223.5L598.5 222.4L597.8 221.8L600 222.1L599.3 224.3L599.1 223.4L597.4 224.5ZM625.9 223.3L628.7 221.3L627.6 220.7L631.2 220.5L629.9 223.8L629.7 222.6L626.8 224.7ZM652.7 223.4L656.8 219.9L655.7 219.3L659.3 218.9L658.3 222.4L657.9 221.2L653.8 224.6ZM681.9 223.4L688 217L685.8 216L691.2 215L690.5 220.4L689.3 218.3L683.2 224.6ZM708.7 223.4L715.5 215.4L713.1 214.5L718.6 213.1L718.2 218.8L716.9 216.6L710.2 224.6ZM738 223.4L744.7 215.4L742.4 214.4L747.9 213L747.5 218.7L746.2 216.6L739.5 224.6ZM764.9 223.4L771.6 215.3L769.2 214.4L774.7 213L774.4 218.7L773 216.5L766.4 224.6ZM794.2 223.4L800.8 215.3L798.5 214.4L804 213L803.7 218.6L802.3 216.5L795.7 224.6ZM821.1 223.4L827.6 215.3L825.3 214.4L830.8 212.9L830.5 218.6L829.1 216.5L822.6 224.6ZM850.4 223.4L856.4 215.8L854.1 215L859.6 213.4L859.3 219.1L857.9 217L851.9 224.6ZM877.3 223.4L882.7 216.6L880.5 215.8L885.7 214.3L885.5 219.7L884.2 217.7L878.8 224.6ZM92 251.7L93.3 255L94.2 254.1L93.5 257.6L90.6 255.5L91.8 255.6L90.5 252.3ZM121.3 251.7L122.6 254.9L123.5 254L122.9 257.5L119.9 255.5L121.2 255.6L119.8 252.3ZM148.2 251.7L149.6 254.9L150.4 254L149.8 257.5L146.8 255.5L148.1 255.6L146.7 252.3ZM177.5 251.7L178.9 254.9L179.7 254L179.2 257.5L176.2 255.5L177.4 255.5L176 252.3ZM204.4 251.7L205.9 255.1L206.8 254.2L206.2 257.7L203.2 255.8L204.5 255.8L202.9 252.3ZM233.7 251.6L235.5 255.4L236.3 254.4L235.9 258L232.8 256.1L234.1 256.1L232.2 252.4ZM260.6 251.6L262.7 255.7L263.4 254.7L263.1 258.3L260 256.5L261.2 256.4L259.1 252.4ZM289.9 251.6L292.3 256L293.1 255L292.8 258.6L289.7 256.9L290.9 256.8L288.4 252.4ZM316.7 251.5L319.9 256L320.6 254.8L320.7 258.5L317.3 257.2L318.6 256.9L315.4 252.5ZM345.9 251.4L350 255.4L350.6 254.1L351.3 257.7L347.6 257.1L348.9 256.5L344.8 252.6ZM372.7 251.3L378.6 255.3L379.1 253.5L380.6 257.7L376.2 257.8L377.7 256.7L371.8 252.7ZM401.9 251.2L409.4 254.5L409.6 252.2L412.2 256.6L407.2 257.7L408.7 256L401.2 252.8ZM625.8 251.4L628.9 248.8L627.7 248.3L631.3 247.8L630.3 251.2L629.9 250L626.9 252.6ZM652.6 251.3L659.6 244.4L657.4 243.2L663 242.4L662.1 248L661 245.7L653.9 252.7ZM681.8 251.4L688.8 243.3L686.4 242.4L692 241.1L691.5 246.7L690.2 244.6L683.3 252.6ZM708.7 251.4L715.3 243L712.9 242.1L718.4 240.6L718.2 246.3L716.8 244.2L710.2 252.6ZM738 251.4L744.6 243L742.2 242.1L747.7 240.6L747.5 246.2L746.1 244.2L739.5 252.6ZM764.9 251.4L771.5 243L769.1 242.1L774.6 240.6L774.4 246.2L773 244.2L766.4 252.6ZM794.2 251.4L800.8 243L798.4 242.1L803.9 240.6L803.7 246.3L802.3 244.2L795.7 252.6ZM821.1 251.4L827.7 243L825.3 242.2L830.8 240.6L830.6 246.3L829.2 244.2L822.6 252.6ZM850.4 251.4L855.9 244.4L853.6 243.6L859 242.1L858.8 247.6L857.4 245.6L851.9 252.6ZM877.4 251.5L882.6 244.8L880.4 244L885.5 242.5L885.3 247.8L884 245.9L878.7 252.5ZM92 282.2L93.3 285.5L94.2 284.6L93.5 288.1L90.6 286L91.8 286.1L90.5 282.8ZM121.3 282.2L122.6 285.4L123.5 284.5L122.9 288L119.9 286L121.2 286.1L119.8 282.8ZM148.2 282.2L149.6 285.4L150.4 284.5L149.8 288L146.8 286L148.1 286.1L146.7 282.8ZM177.5 282.2L178.9 285.4L179.7 284.5L179.2 288L176.2 286L177.4 286L176 282.8ZM204.4 282.2L205.8 285.4L206.7 284.4L206.1 288L203.1 286L204.4 286L202.9 282.8ZM233.7 282.1L235.3 285.4L236.1 284.5L235.6 288L232.6 286.2L233.8 286.1L232.2 282.9ZM260.6 282.1L262.4 285.6L263.2 284.7L262.8 288.2L259.7 286.5L261 286.4L259.1 282.9ZM289.9 282.1L292 285.9L292.8 284.9L292.5 288.5L289.4 286.8L290.6 286.7L288.4 282.9ZM316.7 282L319.7 286.2L320.3 285.1L320.5 288.7L317.1 287.4L318.4 287.2L315.4 283ZM345.9 281.9L349.9 285.9L350.4 284.6L351 288.2L347.4 287.6L348.7 287L344.8 283.1ZM372.7 281.8L377.4 285.1L377.7 283.8L378.9 287.2L375.3 287.2L376.4 286.5L371.8 283.2ZM401.9 281.8L408.4 284.7L408.6 282.8L410.8 286.7L406.4 287.6L407.7 286.2L401.2 283.2ZM428.7 281.6L437.2 283.7L437 281.2L440.6 285.4L435.5 287.5L436.8 285.4L428.2 283.4ZM457.7 281.6L467.1 281.4L466.3 279.1L470.9 282.4L466.3 285.8L467.1 283.3L457.8 283.4ZM484.4 281.7L489.8 280L489 278.9L492.4 280L490.2 282.9L490.3 281.5L484.9 283.3ZM513.7 282L515.5 281L514.8 280.4L517.1 280.8L516.2 283L516.1 282.1L514.2 283ZM540.5 282L542.3 280.9L541.6 280.3L543.8 280.6L543.1 282.8L542.9 281.9L541.2 283ZM569.7 281.8L572.6 279.8L571.5 279.2L575.1 279L573.7 282.4L573.5 281.1L570.6 283.2ZM596.6 281.9L599.3 279.7L598.2 279.1L601.8 278.8L600.6 282.2L600.3 281L597.5 283.1ZM625.8 281.9L630.9 277.3L629.4 276.4L633.6 276L632.7 280.2L632 278.5L626.9 283.1ZM652.6 281.8L659.7 274.6L657.4 273.5L663.1 272.5L662.2 278.2L661.1 275.9L653.9 283.2ZM681.8 281.9L689 273.6L686.7 272.6L692.3 271.4L691.8 277.1L690.5 274.9L683.3 283.1ZM708.7 281.9L715.7 273.4L713.3 272.4L718.8 271L718.5 276.7L717.1 274.6L710.2 283.1ZM738 281.9L745.1 273.4L742.7 272.4L748.2 271L747.9 276.7L746.5 274.6L739.5 283.1ZM764.9 281.9L772 273.4L769.7 272.4L775.2 271.1L774.8 276.7L773.5 274.6L766.4 283.1ZM794.2 281.9L801.3 273.4L799 272.5L804.5 271.1L804.1 276.8L802.8 274.7L795.7 283.1ZM821.1 281.9L828.2 273.5L825.9 272.6L831.4 271.2L831 276.9L829.7 274.8L822.6 283.1ZM850.5 281.9L856.1 275.4L853.9 274.5L859.1 273.3L858.7 278.6L857.4 276.6L851.8 283.1ZM877.4 281.9L882.8 275.8L880.7 274.9L885.6 273.8L885.2 278.8L884 276.9L878.7 283.1ZM92 309.7L93.3 313L94.2 312.1L93.5 315.6L90.6 313.5L91.8 313.6L90.5 310.3ZM121.3 309.7L122.6 312.9L123.5 312L122.9 315.5L119.9 313.5L121.2 313.6L119.8 310.3ZM148.2 309.7L149.6 312.9L150.4 312L149.8 315.5L146.8 313.5L148.1 313.6L146.7 310.3ZM177.5 309.7L178.9 312.9L179.7 312L179.2 315.5L176.2 313.5L177.4 313.5L176 310.3ZM204.4 309.7L205.8 312.9L206.7 311.9L206.1 315.5L203.1 313.5L204.4 313.5L202.9 310.3ZM233.7 309.6L235.2 312.8L236 311.9L235.6 315.4L232.5 313.6L233.8 313.5L232.2 310.4ZM260.6 309.6L262.2 312.7L263 311.8L262.6 315.3L259.5 313.6L260.8 313.5L259.1 310.4ZM289.9 309.6L291.6 312.7L292.4 311.7L292.1 315.3L289 313.6L290.2 313.5L288.4 310.4ZM316.7 309.5L318.8 312.6L319.5 311.5L319.6 315.1L316.3 313.7L317.5 313.5L315.4 310.5ZM345.9 309.4L348.4 312L348.8 310.8L349.5 314.3L346 313.5L347.2 313.1L344.8 310.6ZM372.7 309.4L375.6 311.4L375.8 310.2L377.1 313.6L373.5 313.4L374.6 312.7L371.8 310.6ZM401.9 309.3L405.7 311.1L405.7 309.8L407.6 312.9L404 313.3L405 312.5L401.2 310.7ZM428.7 309.2L432.8 310.3L432.6 309.1L435 311.7L431.6 312.8L432.4 311.9L428.2 310.8ZM457.8 309.2L461.7 309.3L461.2 308.1L464.2 310.1L461.2 312L461.7 310.9L457.7 310.8ZM484.4 309.2L489.9 307.6L489 306.5L492.5 307.6L490.2 310.5L490.3 309.1L484.9 310.8ZM513.5 309.3L519.8 305.7L518.3 304.4L522.8 304.9L521 309L520.6 307.1L514.4 310.7ZM540.4 309.3L544.6 306.4L543.6 305.7L547.1 305.7L545.8 309L545.6 307.7L541.3 310.7ZM569.7 309.4L572.5 307.1L571.5 306.5L575 306.3L573.8 309.6L573.5 308.4L570.6 310.6ZM596.5 309.4L599.9 306.6L598.8 306L602.3 305.6L601.3 309L600.9 307.8L597.6 310.6ZM625.8 309.4L631.2 304.3L629.5 303.4L634 302.8L633.2 307.3L632.3 305.5L626.9 310.6ZM652.6 309.4L658.3 303.4L656.3 302.5L661.3 301.5L660.7 306.6L659.6 304.6L653.9 310.6ZM681.8 309.4L688.9 301.4L686.5 300.4L692.1 299.2L691.6 304.8L690.3 302.7L683.3 310.6ZM708.7 309.4L716.1 300.7L713.7 299.7L719.3 298.4L718.8 304.1L717.5 301.9L710.2 310.6ZM738 309.4L745.5 300.7L743.2 299.7L748.7 298.4L748.2 304.1L746.9 302L739.5 310.6ZM764.9 309.4L772.5 300.8L770.2 299.8L775.7 298.5L775.2 304.2L773.9 302L766.4 310.6ZM794.2 309.4L801.8 300.9L799.5 299.9L805.1 298.7L804.5 304.3L803.3 302.2L795.7 310.6ZM821.1 309.4L828.8 301L826.5 300L832 298.8L831.4 304.5L830.2 302.3L822.6 310.6ZM850.5 309.4L856.3 303.2L854.2 302.2L859.3 301.2L858.7 306.4L857.6 304.4L851.8 310.6ZM877.5 309.4L882.7 304L880.8 303.1L885.4 302.2L884.8 306.9L883.8 305.1L878.6 310.6ZM92 335.3L93.3 338.6L94.2 337.7L93.5 341.2L90.6 339.1L91.8 339.2L90.5 335.9ZM121.1 335.4L121.9 337.3L122.6 336.7L121.9 338.9L119.9 337.8L120.8 337.7L120 335.8ZM148 335.4L148.8 337.3L149.5 336.6L148.8 338.8L146.8 337.8L147.7 337.7L146.9 335.8ZM177.3 335.4L178.1 337.2L178.8 336.6L178.2 338.8L176.1 337.8L177 337.7L176.2 335.8ZM204.4 335.3L205.8 338.5L206.7 337.5L206.1 341.1L203.1 339.1L204.4 339.1L202.9 335.9ZM233.7 335.2L235.2 338.4L236 337.4L235.6 341L232.5 339.2L233.8 339.1L232.2 336ZM260.6 335.2L262.2 338.3L263 337.3L262.7 340.9L259.5 339.2L260.8 339.1L259.1 336ZM289.9 335.2L291.6 338.3L292.3 337.2L292.1 340.8L289 339.2L290.2 339.1L288.4 336ZM316.5 335.3L317.7 336.9L318.3 336.2L318.1 338.5L315.9 337.9L316.7 337.6L315.6 335.9ZM345.8 335.2L347.2 336.7L347.6 335.9L347.8 338.2L345.5 337.9L346.3 337.5L344.9 336ZM372.6 335.1L374.3 336.4L374.5 335.5L375.1 337.7L372.8 337.8L373.5 337.3L371.9 336.1ZM401.8 335.1L403.7 336L403.8 335.1L404.7 337.1L402.5 337.7L403.1 337L401.3 336.1ZM428.6 335L430.6 335.5L430.5 334.6L431.9 336.5L429.8 337.5L430.3 336.7L428.3 336.2ZM457.8 334.8L461.3 334.9L460.8 333.7L463.8 335.7L460.7 337.6L461.3 336.5L457.7 336.4ZM484.5 334.8L489 333.7L488.2 332.7L491.6 333.8L489.2 336.5L489.4 335.2L484.8 336.4ZM513.6 334.9L519.9 331.8L518.6 330.5L522.9 331.2L520.8 335.1L520.6 333.2L514.3 336.3ZM540.4 334.9L544.9 332.2L543.9 331.4L547.5 331.6L545.9 334.8L545.8 333.6L541.3 336.3ZM569.7 334.9L574 331.9L572.9 331.2L576.5 331.1L575.2 334.5L574.9 333.2L570.6 336.3ZM596.5 335L600.8 331.5L599.6 330.9L603.3 330.6L602.2 334.1L601.8 332.8L597.6 336.2ZM625.8 335L631.4 330L629.6 329L634.2 328.5L633.3 333L632.4 331.2L626.9 336.2ZM652.7 335L656.2 331.5L655 331L658.5 330.3L657.8 333.8L657.3 332.6L653.8 336.2ZM681.9 335L687.9 328.4L685.6 327.4L691 326.3L690.4 331.8L689.2 329.6L683.2 336.2ZM708.7 335L716.5 326.1L714.1 325.1L719.7 323.9L719.2 329.5L717.9 327.4L710.2 336.2ZM738 335L745.9 326.1L743.6 325.1L749.2 323.9L748.6 329.6L747.3 327.4L739.5 336.2ZM764.9 335L772.9 326.2L770.6 325.2L776.2 324L775.6 329.7L774.3 327.5L766.4 336.2ZM794.3 335L802.3 326.3L800 325.3L805.6 324.2L804.9 329.9L803.7 327.6L795.6 336.2ZM821.2 334.9L829.2 326.5L826.9 325.4L832.5 324.4L831.8 330L830.6 327.8L822.5 336.3ZM850.5 335L856.6 328.7L854.4 327.7L859.7 326.8L859 332.1L857.9 330L851.8 336.2ZM877.5 335L882.8 329.7L881 328.8L885.6 328L884.8 332.7L883.9 330.8L878.6 336.2ZM92 362.8L93.3 366.1L94.2 365.2L93.5 368.7L90.6 366.6L91.8 366.7L90.5 363.4ZM121.3 362.8L122.6 366L123.5 365.1L122.9 368.6L119.9 366.6L121.2 366.7L119.8 363.4ZM148 362.9L148.8 364.8L149.5 364.1L148.8 366.3L146.8 365.3L147.7 365.2L146.9 363.3ZM177.3 362.9L177.8 363.9L178.5 363.4L177.5 364.9L175.8 364.6L176.7 364.4L176.2 363.3ZM204.2 362.9L205 364.7L205.7 364.1L205.1 366.3L203 365.3L203.9 365.2L203.1 363.3ZM233.7 362.7L235.3 366L236.1 365.1L235.7 368.6L232.6 366.8L233.9 366.7L232.2 363.5ZM260.4 362.8L261.4 364.6L262 364L261.5 366.2L259.4 365.3L260.3 365.2L259.3 363.4ZM289.7 362.8L290.7 364.6L291.3 363.9L290.9 366.1L288.8 365.4L289.7 365.2L288.6 363.4ZM316.5 362.8L317.7 364.4L318.3 363.7L318.1 366L315.9 365.4L316.7 365.1L315.6 363.4ZM345.8 362.7L347.2 364.2L347.6 363.4L347.7 365.7L345.5 365.4L346.3 365L344.9 363.5ZM372.6 362.6L374.2 363.9L374.5 363L375 365.3L372.7 365.3L373.5 364.8L371.9 363.6ZM401.8 362.6L403.7 363.5L403.8 362.6L404.7 364.7L402.5 365.2L403.1 364.6L401.3 363.6ZM428.7 362.3L432.1 363.2L431.8 362L434.3 364.6L430.9 365.7L431.7 364.8L428.2 363.9ZM457.8 362.5L459.8 362.5L459.5 361.7L461.3 363.2L459.5 364.6L459.8 363.7L457.7 363.7ZM484.5 362.3L489.4 361.3L488.7 360.3L492 361.6L489.5 364.1L489.7 362.9L484.8 363.9ZM513.6 362.4L518.9 360.2L518 359.2L521.5 360.1L519.5 363.1L519.5 361.7L514.3 363.8ZM540.5 362.4L546.5 359.2L545.2 358L549.4 358.6L547.5 362.4L547.2 360.7L541.2 363.8ZM569.7 362.4L576 358.3L574.4 357.1L579 357.3L577.4 361.6L576.9 359.7L570.6 363.8ZM596.5 362.4L603.1 357.4L601.2 356.1L606.4 355.9L604.9 360.9L604.1 358.7L597.6 363.8ZM625.8 362.4L632.1 356.9L630.1 355.8L635.3 355.3L634.1 360.4L633.2 358.2L626.9 363.8ZM652.6 362.5L658.8 356.5L656.7 355.4L661.9 354.6L661 359.9L660 357.8L653.9 363.7ZM681.9 362.4L689.6 354.2L687.4 353.1L693 352.1L692.2 357.7L691 355.5L683.2 363.8ZM708.7 362.5L716.9 353.4L714.6 352.4L720.2 351.3L719.6 356.9L718.3 354.7L710.2 363.7ZM738.1 362.5L746.4 353.5L744.1 352.4L749.7 351.3L749 357L747.8 354.8L739.4 363.7ZM765 362.4L773.4 353.6L771.1 352.5L776.7 351.4L776 357.1L774.8 354.9L766.3 363.8ZM794.3 362.4L802.8 353.7L800.5 352.6L806.1 351.6L805.3 357.3L804.1 355L795.6 363.8ZM821.2 362.4L829.7 353.9L827.4 352.8L833 351.9L832.2 357.5L831 355.2L822.5 363.8ZM850.5 362.4L858.5 354.6L856.2 353.4L861.9 352.6L860.9 358.2L859.8 356L851.8 363.8ZM877.5 362.5L883 357.2L881.2 356.2L885.9 355.6L885 360.3L884.1 358.4L878.6 363.7ZM92 390.5L93.3 393.8L94.2 392.9L93.5 396.4L90.6 394.4L91.9 394.4L90.5 391.1ZM121.3 390.5L122.6 393.7L123.5 392.8L122.9 396.3L119.9 394.3L121.2 394.4L119.8 391.1ZM148.2 390.5L149.6 393.7L150.4 392.8L149.8 396.3L146.8 394.3L148.1 394.4L146.7 391.1ZM177.5 390.5L178.9 393.7L179.7 392.8L179.2 396.3L176.2 394.3L177.4 394.3L176 391.1ZM204.2 390.6L205 392.4L205.7 391.8L205.1 394L203 393L203.9 392.9L203.1 391ZM233.5 390.5L234.4 392.4L235 391.7L234.5 394L232.4 393L233.3 392.9L232.4 391.1ZM260.4 390.5L261.4 392.3L262 391.7L261.5 393.9L259.4 393L260.3 392.9L259.3 391.1ZM289.7 390.5L290.7 392.3L291.3 391.6L290.9 393.8L288.8 393.1L289.7 392.9L288.6 391.1ZM316.7 390.3L318.7 393.2L319.4 392.1L319.5 395.7L316.2 394.4L317.4 394.1L315.4 391.3ZM346 390.3L348.3 392.9L348.8 391.7L349.3 395.3L345.9 394.3L347.1 394L344.7 391.3ZM372.6 390.3L374.2 391.6L374.5 390.8L375 393L372.7 393L373.5 392.6L371.9 391.3ZM401.9 390.1L405 391.7L405.1 390.5L406.9 393.6L403.3 393.9L404.3 393.1L401.2 391.5ZM428.6 390L433.3 391.2L433.1 390L435.5 392.6L432.1 393.7L432.9 392.8L428.3 391.6ZM457.8 390L462.3 390.1L461.8 388.9L464.7 390.9L461.7 392.8L462.2 391.7L457.7 391.6ZM484.5 390L488.1 389.5L487.4 388.4L490.7 389.9L488 392.3L488.3 391.1L484.8 391.6ZM513.7 390L517.1 389L516.2 388L519.7 389L517.4 391.7L517.5 390.5L514.2 391.6ZM540.5 390.1L544.4 388.3L543.4 387.5L547 388.1L545 391.1L545 389.8L541.2 391.5ZM569.7 390.1L576 386.4L574.5 385.1L579 385.5L577.2 389.7L576.8 387.8L570.6 391.5ZM596.5 390L605.2 383.6L603.1 382.1L608.8 382.1L607.1 387.5L606.3 385.1L597.6 391.6ZM625.8 390.1L632.4 384.5L630.4 383.2L635.7 382.9L634.5 388.1L633.6 385.9L626.9 391.5ZM652.7 390.2L658.1 385.1L656.3 384.2L660.9 383.6L660 388.1L659.2 386.3L653.8 391.4ZM681.9 390.1L690.1 381.7L687.8 380.6L693.4 379.7L692.6 385.3L691.4 383.1L683.2 391.5ZM708.8 390.1L716.9 381.5L714.6 380.4L720.2 379.3L719.5 385L718.3 382.8L710.1 391.5ZM738.1 390.1L746.9 381L744.6 379.9L750.2 378.9L749.4 384.6L748.2 382.3L739.4 391.5ZM765 390.1L773.9 381.1L771.7 380L777.3 379.1L776.4 384.7L775.3 382.4L766.3 391.5ZM794.3 390.1L803.3 381.3L801 380.1L806.7 379.3L805.7 384.9L804.6 382.6L795.6 391.5ZM821.2 390.1L830.2 381.5L827.9 380.3L833.6 379.6L832.6 385.2L831.5 382.9L822.5 391.5ZM850.5 390.1L856.9 384.2L854.8 383L860.2 382.3L859.2 387.7L858.2 385.5L851.8 391.5ZM877.5 390.2L883.3 384.9L881.4 383.9L886.2 383.4L885.3 388.1L884.4 386.1L878.6 391.4ZM92 418L93.6 422.1L94.5 421.2L93.8 424.7L90.9 422.6L92.1 422.7L90.5 418.6ZM121.3 418L122.9 421.8L123.7 420.9L123.1 424.4L120.1 422.4L121.4 422.4L119.8 418.6ZM148.2 418L149.8 421.7L150.6 420.8L150 424.3L147 422.3L148.3 422.3L146.7 418.6ZM177.5 418L179 421.4L179.8 420.5L179.3 424L176.3 422.1L177.5 422.1L176 418.6ZM204.4 418L205.8 421.2L206.7 420.2L206.1 423.8L203.1 421.8L204.4 421.8L202.9 418.6ZM233.7 417.9L235.2 421.1L236 420.1L235.6 423.7L232.6 421.9L233.8 421.8L232.2 418.7ZM260.6 417.9L262.3 421L263 420L262.7 423.6L259.6 421.9L260.8 421.8L259.1 418.7ZM289.8 417.9L291.7 420.9L292.4 419.9L292.3 423.4L289 421.9L290.3 421.7L288.5 418.7ZM316.5 418L317.7 419.6L318.3 418.9L318.1 421.2L315.9 420.6L316.7 420.3L315.6 418.6ZM346 417.8L348.3 420.4L348.8 419.3L349.3 422.8L345.9 421.8L347.1 421.5L344.7 418.8ZM372.8 417.7L375.5 419.9L375.8 418.7L376.9 422.1L373.3 421.7L374.4 421.2L371.7 418.9ZM401.9 417.6L405.4 419.4L405.5 418.2L407.2 421.3L403.6 421.6L404.6 420.9L401.2 419ZM428.6 417.5L434.2 418.9L434 417.5L436.4 420.3L433 421.6L433.8 420.5L428.3 419.1ZM457.8 417.5L464.4 417.6L463.9 416L467.2 418.5L463.8 420.9L464.4 419.2L457.7 419.1ZM484.6 417.5L488.1 417.2L487.5 416.1L490.6 417.7L487.8 419.9L488.2 418.8L484.7 419.1ZM513.8 417.5L517.2 416.7L516.4 415.7L519.8 416.9L517.3 419.5L517.6 418.3L514.1 419.1ZM540.6 417.5L544.6 416L543.7 415.2L547.2 415.9L545 418.8L545.1 417.6L541.1 419.1ZM569.8 417.6L574.8 414.9L573.7 414L577.4 414.4L575.7 417.7L575.5 416.3L570.5 419ZM596.5 417.6L603.7 412.5L601.7 411.1L607.1 411.1L605.4 416.3L604.7 414L597.6 419ZM625.8 417.6L632.2 412.5L630.3 411.2L635.3 411L634.1 415.9L633.2 413.8L626.9 419ZM652.7 417.7L657.7 413.1L656.2 412.3L660.4 411.8L659.5 415.9L658.8 414.3L653.8 418.9ZM681.9 417.6L690.5 409.1L688.2 408L693.9 407.1L692.9 412.7L691.8 410.5L683.2 419ZM708.8 417.7L714.7 411.6L712.6 410.6L717.8 409.7L717.1 414.9L716 412.8L710.1 418.9ZM738.1 417.6L746.9 408.9L744.6 407.7L750.3 406.8L749.4 412.4L748.2 410.2L739.4 419ZM765 417.6L774.4 408.5L772.2 407.3L777.8 406.5L776.8 412.1L775.7 409.9L766.3 419ZM794.3 417.6L803.8 408.7L801.5 407.5L807.2 406.8L806.1 412.4L805.1 410.1L795.6 419ZM821.2 417.6L830.2 409.4L828 408.2L833.6 407.5L832.5 413.1L831.4 410.8L822.5 419ZM850.6 417.7L856.7 412.2L854.8 411L859.9 410.6L858.8 415.5L857.9 413.5L851.7 418.9ZM877.5 417.7L883.1 412.8L881.4 411.8L886 411.4L885 415.9L884.2 414.1L878.6 418.9ZM92 447.3L94 452.3L95 451.4L94.2 454.9L91.2 452.9L92.5 452.9L90.5 447.9ZM121.3 447.3L123.4 452.4L124.4 451.4L123.6 455L120.6 453L121.9 453L119.8 447.9ZM148.2 447.3L150.2 452.1L151.1 451.1L150.4 454.7L147.4 452.7L148.7 452.7L146.7 447.9ZM177.5 447.3L179.6 452.1L180.4 451.1L179.8 454.7L176.8 452.7L178.1 452.7L176 447.9ZM204.4 447.3L206.2 451.3L207 450.4L206.5 454L203.5 452L204.7 452L202.9 447.9ZM233.7 447.2L235.7 451.3L236.5 450.3L236 453.9L233 452L234.2 452L232.2 448ZM260.6 447.2L262.9 451.5L263.6 450.5L263.3 454.1L260.2 452.4L261.4 452.3L259.1 448ZM289.8 447.2L291.6 450.2L292.3 449.2L292.2 452.8L289 451.2L290.2 451L288.5 448ZM316.7 447.1L318.7 450.1L319.3 449L319.4 452.6L316.1 451.2L317.3 451L315.4 448.1ZM346 447.1L348.2 449.8L348.8 448.7L349.2 452.2L345.8 451.2L347 450.8L344.7 448.1ZM372.8 447L375.4 449.3L375.8 448.1L376.8 451.5L373.3 451L374.4 450.5L371.7 448.2ZM401.9 446.9L405 448.6L405.1 447.4L406.8 450.5L403.2 450.8L404.2 450L401.2 448.3ZM428.7 446.8L435 448.6L434.9 446.9L437.5 450.2L433.6 451.6L434.6 450.2L428.2 448.4ZM457.8 446.8L464.6 447.2L464.1 445.5L467.3 448.2L463.8 450.5L464.5 448.8L457.7 448.4ZM484.6 446.8L489.1 446.6L488.5 445.5L491.6 447.3L488.7 449.4L489.2 448.2L484.7 448.4ZM513.8 446.8L517.5 446.1L516.8 445.1L520.1 446.5L517.5 448.9L517.8 447.7L514.1 448.4ZM540.6 446.8L545.6 445.2L544.7 444.2L548.2 445.2L546 448L546.1 446.7L541.1 448.4ZM569.8 446.9L576.5 443.5L575 442L579.7 442.7L577.5 446.9L577.2 444.9L570.5 448.3ZM596.6 446.9L602.7 442.6L601.1 441.4L605.8 441.5L604.3 445.9L603.7 443.9L597.5 448.3ZM625.8 447L631.4 442.5L629.8 441.5L634.2 441.3L633.1 445.5L632.4 443.7L626.9 448.2ZM652.7 447L657 443.2L655.7 442.6L659.4 442.2L658.5 445.7L658 444.4L653.8 448.2ZM682 447L687.8 441.5L685.9 440.4L690.8 439.8L689.9 444.7L688.9 442.7L683.1 448.2ZM708.8 446.9L717.8 438.1L715.6 436.9L721.2 436.1L720.3 441.7L719.2 439.5L710.1 448.3ZM738.1 446.9L747.9 437.7L745.7 436.5L751.3 435.8L750.3 441.4L749.2 439.1L739.4 448.3ZM765 446.9L774.9 437.8L772.7 436.6L778.4 436L777.3 441.5L776.2 439.2L766.3 448.3ZM794.3 446.9L804.3 438.1L802.1 436.8L807.8 436.2L806.6 441.8L805.6 439.5L795.6 448.3ZM821.2 446.9L830.7 438.8L828.5 437.5L834.2 437L832.9 442.6L831.9 440.2L822.5 448.3ZM850.6 446.9L856.9 441.7L855 440.5L860.1 440.2L858.8 445.1L858 443L851.7 448.3ZM877.5 447L883.2 442.5L881.5 441.4L886 441.2L884.8 445.5L884.2 443.7L878.6 448.2ZM92 476.7L94.5 483L95.9 481.8L94.9 485.9L91.3 483.7L93.1 483.6L90.5 477.3ZM121.3 476.7L123.9 482.9L125.2 481.7L124.2 485.8L120.6 483.6L122.4 483.5L119.8 477.3ZM148.2 476.7L150.8 482.9L152.1 481.7L151.1 485.8L147.6 483.6L149.3 483.5L146.7 477.3ZM177.5 476.7L179.7 481.9L180.7 480.9L180 484.5L176.9 482.6L178.2 482.6L176 477.3ZM204.4 476.7L206.4 481.3L207.2 480.3L206.7 483.9L203.7 481.9L204.9 481.9L202.9 477.3ZM233.7 476.7L236 481.4L236.8 480.4L236.3 484L233.2 482.1L234.5 482.1L232.2 477.3ZM260.6 476.6L263.6 482.4L264.7 481.2L264.1 485.2L260.5 483.4L262.1 483.2L259.1 477.4ZM289.9 476.6L292 480.5L292.8 479.5L292.5 483.1L289.4 481.4L290.6 481.3L288.4 477.4ZM316.7 476.6L318.6 479.5L319.3 478.5L319.3 482L316 480.6L317.3 480.4L315.4 477.4ZM346 476.5L348.2 479.3L348.7 478.2L349.1 481.7L345.7 480.6L346.9 480.3L344.7 477.5ZM372.8 476.4L375.4 478.8L375.8 477.6L376.7 481L373.2 480.5L374.3 480L371.7 477.6ZM402 476.3L405.4 478.3L405.5 477L407.1 480.2L403.6 480.4L404.6 479.7L401.1 477.7ZM428.7 476.2L433.3 477.7L433.2 476.4L435.4 479.2L432 480.2L432.8 479.2L428.2 477.8ZM457.8 476.2L463.1 476.8L462.8 475.5L465.5 477.8L462.3 479.5L463 478.4L457.7 477.8ZM484.7 476.2L489.4 476.2L488.9 475.1L491.8 477.1L488.8 479L489.3 477.9L484.6 477.8ZM513.8 476.2L518.4 475.6L517.8 474.6L521 476.1L518.3 478.4L518.6 477.2L514.1 477.8ZM540.6 476.2L547.2 474.4L546.2 472.9L550.1 474.4L547.5 477.7L547.6 475.9L541.1 477.8ZM569.8 476.3L576.1 473.2L574.8 471.9L579.1 472.7L577.1 476.5L576.8 474.7L570.5 477.7ZM596.6 476.3L601.1 473.2L600 472.5L603.6 472.4L602.3 475.8L602 474.5L597.5 477.7ZM625.8 476.4L631.5 471.9L629.9 470.8L634.3 470.6L633.2 474.9L632.5 473.1L626.9 477.6ZM652.7 476.4L658.8 471L656.9 469.9L661.9 469.4L660.8 474.3L659.9 472.3L653.8 477.6ZM681.9 476.3L691.2 467.8L689.1 466.6L694.7 466L693.6 471.5L692.5 469.2L683.2 477.7ZM708.8 476.3L718.8 467.2L716.6 465.9L722.2 465.3L721.1 470.9L720 468.6L710.1 477.7ZM738.1 476.3L748.3 467.2L746.2 465.9L751.8 465.4L750.6 471L749.6 468.6L739.4 477.7ZM765 476.3L775.4 467.4L773.3 466.1L778.9 465.6L777.6 471.1L776.7 468.8L766.3 477.7ZM794.3 476.3L804.8 467.6L802.7 466.3L808.3 465.9L806.9 471.4L806 469.1L795.6 477.7ZM821.3 476.3L831.1 468.3L829 467L834.7 466.7L833.2 472.2L832.3 469.8L822.4 477.7ZM850.6 476.3L857.1 471.4L855.2 470.1L860.2 470L858.8 474.8L858.1 472.7L851.7 477.7ZM877.6 476.4L883.2 472.2L881.6 471.1L886 471.1L884.7 475.2L884.1 473.5L878.5 477.6ZM92 506.5L94.9 513.7L96.5 512.3L95.4 517L91.3 514.4L93.4 514.3L90.5 507.1ZM121.3 506.5L124.2 513.5L125.7 512.2L124.6 516.7L120.6 514.3L122.7 514.1L119.8 507.1ZM148.2 506.5L150.9 513L152.3 511.8L151.3 516L147.6 513.8L149.4 513.6L146.7 507.1ZM177.5 506.5L179.7 511.7L180.7 510.8L179.9 514.3L176.8 512.4L178.2 512.4L176 507.1ZM204.4 506.5L206.7 511.7L207.6 510.7L206.9 514.3L203.8 512.4L205.2 512.3L202.9 507.1ZM233.7 506.5L236.1 511.6L237.1 510.6L236.4 514.2L233.2 512.4L234.6 512.3L232.2 507.1ZM260.6 506.4L263.1 511.4L264 510.4L263.4 514L260.3 512.2L261.6 512.1L259.1 507.2ZM289.9 506.4L292.1 510.6L292.8 509.6L292.6 513.1L289.4 511.4L290.7 511.3L288.4 507.2ZM316.7 506.4L318.8 509.8L319.5 508.8L319.4 512.3L316.2 510.8L317.5 510.6L315.4 507.2ZM346 506.3L348.2 509.3L348.8 508.2L349.1 511.8L345.7 510.6L346.9 510.3L344.7 507.3ZM372.8 506.2L375.7 508.9L376.1 507.8L377 511.2L373.4 510.6L374.6 510.1L371.7 507.4ZM402 506.1L405.8 508.4L406 507.2L407.5 510.4L404 510.5L405 509.8L401.1 507.5ZM428.7 506L433.2 507.6L433.1 506.4L435.2 509.2L431.8 510L432.6 509.1L428.2 507.6ZM457.9 506L462 506.6L461.7 505.4L464.3 507.8L461.1 509.3L461.8 508.2L457.6 507.6ZM484.7 506L488.2 506.2L487.8 505.1L490.6 507.2L487.5 508.9L488.1 507.8L484.6 507.6ZM513.9 506L517.4 505.7L516.8 504.6L519.9 506.3L517.1 508.5L517.5 507.3L514 507.6ZM540.7 506L544.1 505.2L543.3 504.2L546.7 505.4L544.2 508L544.5 506.8L541 507.6ZM569.8 506.1L574.1 504.1L573.2 503.3L576.7 503.8L574.8 506.8L574.8 505.6L570.5 507.5ZM596.6 506.1L602.6 502L601 500.8L605.5 500.9L604 505.2L603.5 503.3L597.5 507.5ZM625.8 506.1L632.6 500.7L630.6 499.3L636.1 499.1L634.6 504.3L633.8 502.1L626.9 507.5ZM652.6 506.1L662 498.1L659.8 496.8L665.5 496.3L664.2 501.9L663.2 499.5L653.9 507.5ZM681.9 506.1L688.7 500.3L686.6 499L692 498.6L690.8 503.9L689.9 501.7L683.2 507.5ZM708.8 506.1L719.1 497.2L716.9 495.9L722.6 495.4L721.3 500.9L720.4 498.6L710.1 507.5ZM738.1 506.1L748.9 497.1L746.8 495.8L752.4 495.4L751 500.9L750.1 498.6L739.4 507.5ZM765.1 506.1L776 497.3L773.9 495.9L779.5 495.6L778.1 501.1L777.2 498.8L766.2 507.5ZM794.4 506L805.2 497.7L803.1 496.3L808.8 496.1L807.2 501.6L806.3 499.2L795.5 507.6ZM821.3 506L831.5 498.4L829.4 497L835.1 496.9L833.4 502.3L832.6 499.9L822.4 507.6ZM850.7 506.1L856.9 501.7L855.2 500.4L860 500.5L858.5 505L857.9 503L851.6 507.5ZM877.6 506.1L882.3 502.9L881.1 502.1L884.8 502.2L883.5 505.6L883.2 504.2L878.5 507.5ZM92.1 531.4L95.3 539.3L97.1 537.8L95.8 543L91.3 540.2L93.6 540L90.4 532ZM121.3 531.4L124.4 539L126.2 537.5L124.9 542.4L120.6 539.8L122.9 539.6L119.8 532ZM148.2 531.4L151.1 538.5L152.7 537.1L151.6 541.8L147.6 539.3L149.7 539.1L146.7 532ZM177.5 531.4L180.3 538.1L181.8 536.8L180.7 541.2L176.9 538.8L178.8 538.7L176 532ZM204.4 531.4L207.2 537.9L208.6 536.7L207.6 541L203.8 538.7L205.7 538.6L202.9 532ZM233.7 531.4L236.5 537.6L237.8 536.3L237 540.5L233.3 538.4L235.1 538.2L232.2 532ZM260.6 531.3L263.1 536.5L264 535.4L263.4 539.1L260.2 537.3L261.6 537.2L259.1 532.1ZM289.9 531.3L292.2 535.8L292.9 534.8L292.6 538.3L289.5 536.6L290.7 536.5L288.4 532.1ZM316.7 531.3L319 535.1L319.7 534.1L319.6 537.6L316.4 536L317.6 535.9L315.4 532.1ZM346 531.2L348.5 534.7L349.1 533.6L349.2 537.2L345.9 535.9L347.1 535.6L344.7 532.2ZM372.8 531.1L376.1 534.3L376.5 533.2L377.3 536.7L373.8 536L375 535.5L371.7 532.3ZM402 531L406.3 533.7L406.5 532.4L408 535.7L404.5 535.8L405.5 535.1L401.1 532.4ZM428.7 530.9L434.1 533L434 531.6L436.1 534.6L432.5 535.5L433.5 534.5L428.2 532.5ZM457.9 530.9L461.9 531.7L461.6 530.5L464.2 533L460.9 534.3L461.6 533.3L457.6 532.5ZM484.7 531.1L486.8 531.3L486.6 530.4L488.1 532.1L486.2 533.3L486.6 532.5L484.6 532.3ZM513.9 531.1L516 531L515.7 530.2L517.5 531.6L515.8 533.1L516 532.2L514 532.3ZM540.7 530.9L544.1 530.2L543.4 529.2L546.7 530.5L544.2 533L544.5 531.8L541 532.5ZM569.8 531L574.5 529L573.6 528.1L577.1 528.7L575.1 531.7L575.1 530.4L570.5 532.4ZM596.6 531L602.3 527.1L600.8 526L605.1 526.1L603.7 530.2L603.2 528.4L597.5 532.4ZM625.8 531.1L632.1 526.2L630.3 525L635.2 524.8L633.9 529.5L633.1 527.5L626.9 532.3ZM652.6 531L662.1 523.1L659.9 521.8L665.6 521.4L664.2 526.9L663.3 524.6L653.9 532.4ZM681.9 531L691.7 522.9L689.5 521.5L695.2 521.2L693.8 526.7L692.9 524.3L683.2 532.4ZM708.8 531L719.3 522.4L717.2 521L722.9 520.7L721.5 526.2L720.5 523.8L710.1 532.4ZM738.2 531L749.2 522.3L747.1 520.9L752.7 520.7L751.2 526.1L750.3 523.8L739.3 532.4ZM765.1 530.9L776.2 522.5L774.2 521L779.8 520.9L778.2 526.4L777.4 524L766.2 532.5ZM794.4 530.9L805.4 522.9L803.4 521.5L809 521.5L807.3 526.9L806.5 524.5L795.5 532.5ZM821.3 531L828.5 525.9L826.6 524.5L832.1 524.6L830.3 529.7L829.6 527.4L822.4 532.4ZM850.7 531L855.4 527.9L854.3 527.1L858 527.1L856.6 530.6L856.3 529.2L851.6 532.4ZM877.6 531L882 528.2L880.9 527.5L884.5 527.6L883 530.8L882.8 529.6L878.5 532.4ZM92.1 562.4L96.6 573.6L98.6 572L97.2 577.5L92.4 574.5L94.9 574.3L90.4 563.2ZM121.4 562.5L124.7 570.6L126.6 569L125.3 574.3L120.6 571.5L123 571.3L119.7 563.1ZM148.3 562.4L151.7 570.6L153.5 569L152.2 574.4L147.6 571.5L150 571.3L146.6 563.2ZM177.5 562.5L180.7 570.1L182.4 568.6L181.3 573.6L176.9 570.9L179.2 570.7L176 563.1ZM204.4 562.5L207.5 569.7L209.1 568.3L208 573.1L203.8 570.6L206 570.4L202.9 563.1ZM233.7 562.5L236.7 569L238.1 567.7L237.2 572.1L233.3 569.9L235.2 569.7L232.2 563.1ZM260.6 562.4L263.4 568.3L264.6 567.1L263.9 571.1L260.3 569.2L262 569L259.1 563.2ZM289.9 562.4L292.3 567.2L293.2 566.2L292.8 569.8L289.6 568L290.9 567.9L288.4 563.2ZM316.7 562.4L319.4 566.8L320.1 565.8L320 569.4L316.7 567.8L318 567.6L315.4 563.2ZM346 562.3L348.9 566.3L349.5 565.2L349.7 568.7L346.4 567.5L347.6 567.2L344.7 563.3ZM372.8 562.2L376.2 565.6L376.7 564.5L377.4 567.9L373.9 567.2L375.1 566.8L371.7 563.4ZM402 562.1L406.3 565.1L406.6 563.8L407.9 567.1L404.3 567.1L405.4 566.4L401.1 563.5ZM428.8 562.1L433.4 564.2L433.4 562.9L435.3 566L431.8 566.5L432.7 565.7L428.1 563.5ZM458 562L461.4 563L461.2 561.7L463.5 564.4L460.1 565.5L460.9 564.5L457.5 563.6ZM484.8 562L488.2 562.6L487.9 561.4L490.6 563.7L487.3 565.2L488 564.2L484.5 563.6ZM514 562L517.5 562L517 560.9L520 562.9L516.9 564.8L517.5 563.6L513.9 563.6ZM540.7 562L544.5 561.5L543.8 560.4L547 561.9L544.4 564.2L544.7 563L541 563.6ZM569.9 562L574.4 560.4L573.6 559.5L577 560.3L574.9 563.2L575 561.9L570.4 563.6ZM596.6 562.1L601.5 559.2L600.4 558.3L604.1 558.6L602.6 562L602.4 560.6L597.5 563.5ZM625.9 562.1L632.2 557.7L630.5 556.4L635.3 556.5L633.8 561.1L633.1 559L626.8 563.5ZM652.7 562.1L659.6 556.8L657.6 555.4L663 555.3L661.5 560.4L660.7 558.2L653.8 563.5ZM682 562L692 554.6L690 553.2L695.7 553.1L694 558.6L693.2 556.2L683.1 563.6ZM708.9 562L719.8 554.3L717.8 552.8L723.5 552.9L721.7 558.3L720.9 555.9L710 563.6ZM738.2 562L749.4 554.5L747.5 552.9L753.1 553.1L751.2 558.5L750.5 556L739.3 563.6ZM765.1 562L776 555L774 553.4L779.7 553.8L777.6 559.1L777 556.6L766.2 563.6ZM794.5 562L801.9 557.5L800.1 555.9L805.5 556.4L803.4 561.3L802.9 559L795.4 563.6ZM821.4 562.1L828 558.3L826.4 556.9L831.1 557.4L829.2 561.7L828.8 559.7L822.3 563.5ZM850.8 562.1L857 558.6L855.6 557.4L859.9 557.9L858.1 561.9L857.7 560.1L851.5 563.5ZM877.7 562.1L882.3 559.6L881.3 558.8L884.9 559.2L883.1 562.3L883 561.1L878.4 563.5ZM92.1 588.4L96.6 599.6L98.6 598L97.2 603.5L92.4 600.5L94.9 600.3L90.4 589.2ZM121.4 588.4L126 599.6L127.9 597.9L126.6 603.5L121.7 600.5L124.2 600.3L119.7 589.2ZM148.3 588.4L152.9 599.5L154.8 597.9L153.5 603.4L148.7 600.5L151.2 600.3L146.6 589.2ZM177.6 588.4L181.1 596.7L182.9 595.1L181.7 600.5L176.9 597.6L179.4 597.4L175.9 589.2ZM204.4 588.5L207.7 596L209.4 594.5L208.2 599.5L203.9 596.9L206.1 596.7L202.9 589.1ZM233.7 588.5L236.8 595.3L238.3 593.9L237.4 598.4L233.3 596.1L235.3 595.9L232.2 589.1ZM260.6 588.4L263.6 594.6L264.8 593.3L264.1 597.5L260.3 595.5L262.1 595.3L259.1 589.2ZM289.9 588.4L292.5 593.5L293.4 592.4L292.9 596.1L289.7 594.4L291.1 594.2L288.4 589.2ZM316.7 588.4L319.7 593.2L320.5 592.1L320.3 595.8L316.9 594.3L318.3 594.1L315.4 589.2ZM346 588.3L349.3 592.6L349.9 591.5L350.1 595.1L346.7 593.9L348 593.6L344.7 589.3ZM372.8 588.2L376.2 591.7L376.7 590.5L377.4 594L373.9 593.2L375.1 592.8L371.7 589.4ZM402 588.1L405.8 590.9L406.1 589.7L407.3 593L403.8 592.8L404.8 592.2L401.1 589.5ZM428.8 588.1L432.7 590.2L432.8 588.9L434.5 592L431 592.3L431.9 591.6L428.1 589.5ZM458 588L461.7 589.3L461.6 588.1L463.8 590.9L460.3 591.8L461.2 590.9L457.5 589.6ZM484.8 588L488.4 588.7L488.1 587.5L490.7 590L487.3 591.3L488.1 590.3L484.5 589.6ZM514 588L517.9 588.2L517.5 587L520.4 589.1L517.3 590.9L517.9 589.8L513.9 589.6ZM540.8 588L545.4 587.5L544.8 586.4L548 588.1L545.2 590.3L545.6 589.1L540.9 589.6ZM569.9 588L575.4 586.4L574.5 585.3L578 586.5L575.7 589.3L575.8 587.9L570.4 589.6ZM596.7 588.1L603 584.8L601.6 583.5L606 584.2L604 588.1L603.7 586.3L597.4 589.5ZM625.9 588.1L632.7 583.7L631 582.3L636 582.6L634.2 587.3L633.6 585.1L626.8 589.5ZM652.7 588.1L659.9 582.8L658 581.4L663.5 581.4L661.8 586.6L661 584.3L653.8 589.5ZM682 588L692.8 580.9L690.8 579.3L696.5 579.6L694.5 584.9L693.8 582.5L683.1 589.6ZM709 588L719.6 581.5L717.6 579.8L723.3 580.3L721.2 585.5L720.6 583.1L709.9 589.6ZM765.2 588L772.6 583.9L770.9 582.4L776.1 583L773.9 587.7L773.4 585.5L766.1 589.6ZM794.6 588L801.8 584.2L800.2 582.6L805.3 583.4L803 588L802.6 585.7L795.3 589.6ZM821.5 588.1L827.8 584.9L826.5 583.6L830.8 584.3L828.8 588.2L828.5 586.4L822.2 589.5ZM850.8 588.1L856 585.6L854.9 584.7L858.5 585.3L856.7 588.5L856.6 587.1L851.5 589.5ZM877.7 588.1L881.1 586.6L880.1 585.7L883.7 586.3L881.7 589.3L881.7 588L878.4 589.5ZM92.1 620.9L96.6 632.1L98.6 630.5L97.2 636L92.4 633L94.9 632.8L90.4 621.7ZM121.4 620.9L126 632.1L127.9 630.4L126.6 636L121.7 633L124.2 632.8L119.7 621.7ZM148.3 620.9L152.9 632L154.8 630.4L153.5 635.9L148.7 633L151.2 632.8L146.6 621.7ZM177.6 620.9L182.3 632L184.2 630.4L182.9 635.9L178 633L180.5 632.8L175.9 621.7ZM204.5 621L207.8 628.8L209.6 627.2L208.4 632.4L203.9 629.7L206.2 629.5L202.8 621.6ZM233.7 621L237 628.1L238.6 626.7L237.6 631.5L233.3 629.1L235.5 628.8L232.2 621.6ZM260.6 620.9L263.8 627.6L265.3 626.2L264.5 630.8L260.4 628.6L262.4 628.3L259.1 621.7ZM289.9 620.9L293.2 627.3L294.5 625.9L293.8 630.3L289.9 628.3L291.7 628L288.4 621.7ZM316.7 620.9L320.3 626.7L321.5 625.3L321.1 629.5L317.2 627.9L318.9 627.5L315.4 621.7ZM346 620.8L349.5 625.3L350.2 624.1L350.4 627.7L346.9 626.7L348.2 626.3L344.7 621.8ZM372.8 620.7L376.6 624.6L377.1 623.4L377.8 627L374.2 626.2L375.5 625.7L371.7 621.9ZM402.1 620.7L406.1 624L406.5 622.7L407.5 626.2L404 625.8L405.1 625.2L401 621.9ZM428.9 620.6L433.1 623.3L433.2 622L434.7 625.3L431.2 625.3L432.2 624.6L428 622ZM458.1 620.6L462.2 622.4L462.2 621.2L464.2 624.2L460.6 624.7L461.6 623.9L457.4 622ZM484.9 620.5L489 621.6L488.8 620.4L491.2 623L487.8 624.1L488.6 623.2L484.4 622.1ZM514 620.5L518.8 620.9L518.4 619.7L521.2 621.9L518 623.6L518.6 622.5L513.9 622.1ZM540.8 620.5L546.4 620.2L545.9 619L549 620.9L546.1 623.2L546.5 621.9L540.9 622.1ZM570 620.5L576.7 619L575.8 617.4L579.7 619.1L576.9 622.4L577.1 620.5L570.3 622.1ZM596.7 620.6L603.8 617.5L602.4 616L607 617L604.6 621.1L604.4 619L597.4 622ZM625.9 620.5L633.4 616.3L631.7 614.7L637 615.3L634.7 620.1L634.3 617.8L626.8 622.1ZM652.7 620.5L660.1 615.6L658.2 614.1L663.7 614.3L661.8 619.5L661.2 617.1L653.8 622.1ZM738.3 620.4L749.3 615.2L747.5 613.3L753.1 614.4L750.4 619.4L750.1 616.9L739.2 622.2ZM765.3 620.5L773.1 617L771.5 615.2L776.7 616.3L774 620.9L773.8 618.6L766 622.1ZM794.6 620.6L801.1 617.8L799.8 616.5L804 617.4L801.8 621.1L801.7 619.3L795.3 622ZM821.6 620.5L825.4 619L824.5 618.2L828 618.9L825.9 621.8L826 620.5L822.1 622.1ZM850.9 620.5L854.2 619.3L853.3 618.4L856.8 619.2L854.6 622.1L854.7 620.8L851.4 622.1ZM877.9 620.7L879.8 620.1L879.2 619.3L881.4 620.1L880.2 622.1L880.2 621.2L878.2 621.9ZM92.1 648.4L96.6 659.6L98.6 658L97.2 663.5L92.4 660.5L94.9 660.3L90.4 649.2ZM121.4 648.4L126 659.6L127.9 657.9L126.6 663.5L121.7 660.5L124.2 660.3L119.7 649.2ZM148.3 648.4L152.9 659.5L154.8 657.9L153.5 663.4L148.7 660.5L151.2 660.3L146.6 649.2ZM177.6 648.4L182.3 659.5L184.2 657.9L182.9 663.4L178 660.5L180.5 660.3L175.9 649.2ZM204.5 648.4L208 656.7L209.9 655L208.6 660.5L203.9 657.6L206.3 657.4L202.8 649.2ZM233.7 648.4L237.2 656L238.9 654.4L237.8 659.5L233.4 657L235.6 656.7L232.2 649.2ZM260.6 648.4L264 655.5L265.6 654L264.7 658.8L260.4 656.5L262.6 656.2L259.1 649.2ZM289.9 648.4L293.3 655.1L294.7 653.6L294 658.2L289.9 656.1L291.9 655.8L288.4 649.2ZM316.7 648.4L320.5 654.4L321.7 652.9L321.4 657.3L317.3 655.7L319.1 655.3L315.4 649.2ZM346 648.3L350.2 653.5L351.1 652L351.3 656.2L347.3 655.1L348.9 654.5L344.7 649.3ZM372.8 648.2L377.4 653L378.2 651.5L378.7 655.5L374.7 654.8L376.2 654.1L371.7 649.4ZM402.1 648.2L407 652.5L407.7 650.9L408.6 654.8L404.5 654.5L406 653.7L401 649.4ZM428.9 648.1L433.6 651.4L433.9 650L435.2 653.5L431.5 653.5L432.7 652.7L428 649.5ZM458.1 648.1L463 650.5L463.1 649.2L464.8 652.4L461.2 652.8L462.2 652L457.4 649.5ZM484.9 648L489.6 649.4L489.4 648.2L491.7 650.9L488.3 651.9L489.1 650.9L484.4 649.6ZM514 648L519.2 648.6L518.8 647.4L521.5 649.6L518.3 651.3L519 650.2L513.9 649.6ZM540.8 648L546.5 647.9L546 646.6L549 648.7L546.1 650.9L546.6 649.5L540.9 649.6ZM570 648L576.9 646.7L576 645.1L580 646.9L577 650.1L577.2 648.3L570.3 649.6ZM596.8 648L604 645.3L602.7 643.6L607.3 644.9L604.7 648.9L604.6 646.8L597.3 649.6ZM625.9 648L633.4 644.1L631.8 642.5L636.9 643.2L634.6 647.9L634.2 645.6L626.8 649.6ZM652.7 648L662.2 642L660.2 640.4L665.9 640.7L663.8 646L663.2 643.6L653.8 649.6ZM682.1 648L692.8 642.3L691 640.6L696.6 641.4L694.1 646.5L693.7 644L683 649.6ZM709.1 647.9L719.6 643.1L717.9 641.2L723.5 642.4L720.7 647.3L720.4 644.8L709.8 649.7ZM738.4 648L746 644.8L744.5 643.1L749.5 644.2L746.9 648.6L746.7 646.4L739.1 649.6ZM850.9 648L854.3 647L853.4 646L856.9 647L854.6 649.7L854.7 648.5L851.4 649.6ZM877.9 648.2L879.9 647.6L879.3 646.9L881.4 647.8L880.1 649.7L880.2 648.8L878.2 649.4Z" fill="#0404f8" stroke="#0404f8" stroke-width="0.55" stroke-linejoin="round"/>
<rect x="81.5" y="130.6" width="17" height="7.2" fill="#fff"/>
<text class="tk" x="90" y="136.1" text-anchor="middle">85°W</text>
<text class="tk" x="90" y="674.1" text-anchor="middle">85°W</text>
<rect x="106.1" y="130.6" width="17" height="7.2" fill="#fff"/>
<text class="tk" x="114.6" y="136.1" text-anchor="middle">84°W</text>
<text class="tk" x="114.6" y="674.1" text-anchor="middle">84°W</text>
<rect x="130.8" y="130.6" width="17" height="7.2" fill="#fff"/>
<text class="tk" x="139.3" y="136.1" text-anchor="middle">83°W</text>
<text class="tk" x="139.3" y="674.1" text-anchor="middle">83°W</text>
<rect x="155.4" y="130.6" width="17" height="7.2" fill="#fff"/>
<text class="tk" x="163.9" y="136.1" text-anchor="middle">82°W</text>
<text class="tk" x="163.9" y="674.1" text-anchor="middle">82°W</text>
<rect x="180" y="130.6" width="17" height="7.2" fill="#fff"/>
<text class="tk" x="188.5" y="136.1" text-anchor="middle">81°W</text>
<text class="tk" x="188.5" y="674.1" text-anchor="middle">81°W</text>
<rect x="204.7" y="130.6" width="17" height="7.2" fill="#fff"/>
<text class="tk" x="213.2" y="136.1" text-anchor="middle">80°W</text>
<text class="tk" x="213.2" y="674.1" text-anchor="middle">80°W</text>
<rect x="229.3" y="130.6" width="17" height="7.2" fill="#fff"/>
<text class="tk" x="237.8" y="136.1" text-anchor="middle">79°W</text>
<text class="tk" x="237.8" y="674.1" text-anchor="middle">79°W</text>
<rect x="254" y="130.6" width="17" height="7.2" fill="#fff"/>
<text class="tk" x="262.5" y="136.1" text-anchor="middle">78°W</text>
<text class="tk" x="262.5" y="674.1" text-anchor="middle">78°W</text>
<rect x="278.6" y="130.6" width="17" height="7.2" fill="#fff"/>
<text class="tk" x="287.1" y="136.1" text-anchor="middle">77°W</text>
<text class="tk" x="287.1" y="674.1" text-anchor="middle">77°W</text>
<rect x="303.2" y="130.6" width="17" height="7.2" fill="#fff"/>
<text class="tk" x="311.7" y="136.1" text-anchor="middle">76°W</text>
<text class="tk" x="311.7" y="674.1" text-anchor="middle">76°W</text>
<rect x="327.9" y="130.6" width="17" height="7.2" fill="#fff"/>
<text class="tk" x="336.4" y="136.1" text-anchor="middle">75°W</text>
<text class="tk" x="336.4" y="674.1" text-anchor="middle">75°W</text>
<rect x="352.5" y="130.6" width="17" height="7.2" fill="#fff"/>
<text class="tk" x="361" y="136.1" text-anchor="middle">74°W</text>
<text class="tk" x="361" y="674.1" text-anchor="middle">74°W</text>
<rect x="377.1" y="130.6" width="17" height="7.2" fill="#fff"/>
<text class="tk" x="385.6" y="136.1" text-anchor="middle">73°W</text>
<text class="tk" x="385.6" y="674.1" text-anchor="middle">73°W</text>
<rect x="401.8" y="130.6" width="17" height="7.2" fill="#fff"/>
<text class="tk" x="410.3" y="136.1" text-anchor="middle">72°W</text>
<text class="tk" x="410.3" y="674.1" text-anchor="middle">72°W</text>
<rect x="426.4" y="130.6" width="17" height="7.2" fill="#fff"/>
<text class="tk" x="434.9" y="136.1" text-anchor="middle">71°W</text>
<text class="tk" x="434.9" y="674.1" text-anchor="middle">71°W</text>
<rect x="451" y="130.6" width="17" height="7.2" fill="#fff"/>
<text class="tk" x="459.5" y="136.1" text-anchor="middle">70°W</text>
<text class="tk" x="459.5" y="674.1" text-anchor="middle">70°W</text>
<rect x="475.7" y="130.6" width="17" height="7.2" fill="#fff"/>
<text class="tk" x="484.2" y="136.1" text-anchor="middle">69°W</text>
<text class="tk" x="484.2" y="674.1" text-anchor="middle">69°W</text>
<rect x="500.3" y="130.6" width="17" height="7.2" fill="#fff"/>
<text class="tk" x="508.8" y="136.1" text-anchor="middle">68°W</text>
<text class="tk" x="508.8" y="674.1" text-anchor="middle">68°W</text>
<rect x="525" y="130.6" width="17" height="7.2" fill="#fff"/>
<text class="tk" x="533.5" y="136.1" text-anchor="middle">67°W</text>
<text class="tk" x="533.5" y="674.1" text-anchor="middle">67°W</text>
<rect x="549.6" y="130.6" width="17" height="7.2" fill="#fff"/>
<text class="tk" x="558.1" y="136.1" text-anchor="middle">66°W</text>
<text class="tk" x="558.1" y="674.1" text-anchor="middle">66°W</text>
<rect x="574.2" y="130.6" width="17" height="7.2" fill="#fff"/>
<text class="tk" x="582.7" y="136.1" text-anchor="middle">65°W</text>
<text class="tk" x="582.7" y="674.1" text-anchor="middle">65°W</text>
<rect x="598.9" y="130.6" width="17" height="7.2" fill="#fff"/>
<text class="tk" x="607.4" y="136.1" text-anchor="middle">64°W</text>
<text class="tk" x="607.4" y="674.1" text-anchor="middle">64°W</text>
<rect x="623.5" y="130.6" width="17" height="7.2" fill="#fff"/>
<text class="tk" x="632" y="136.1" text-anchor="middle">63°W</text>
<text class="tk" x="632" y="674.1" text-anchor="middle">63°W</text>
<rect x="648.1" y="130.6" width="17" height="7.2" fill="#fff"/>
<text class="tk" x="656.6" y="136.1" text-anchor="middle">62°W</text>
<text class="tk" x="656.6" y="674.1" text-anchor="middle">62°W</text>
<rect x="672.8" y="130.6" width="17" height="7.2" fill="#fff"/>
<text class="tk" x="681.3" y="136.1" text-anchor="middle">61°W</text>
<text class="tk" x="681.3" y="674.1" text-anchor="middle">61°W</text>
<rect x="697.4" y="130.6" width="17" height="7.2" fill="#fff"/>
<text class="tk" x="705.9" y="136.1" text-anchor="middle">60°W</text>
<text class="tk" x="705.9" y="674.1" text-anchor="middle">60°W</text>
<rect x="722" y="130.6" width="17" height="7.2" fill="#fff"/>
<text class="tk" x="730.5" y="136.1" text-anchor="middle">59°W</text>
<text class="tk" x="730.5" y="674.1" text-anchor="middle">59°W</text>
<rect x="746.7" y="130.6" width="17" height="7.2" fill="#fff"/>
<text class="tk" x="755.2" y="136.1" text-anchor="middle">58°W</text>
<text class="tk" x="755.2" y="674.1" text-anchor="middle">58°W</text>
<rect x="771.3" y="130.6" width="17" height="7.2" fill="#fff"/>
<text class="tk" x="779.8" y="136.1" text-anchor="middle">57°W</text>
<text class="tk" x="779.8" y="674.1" text-anchor="middle">57°W</text>
<rect x="796" y="130.6" width="17" height="7.2" fill="#fff"/>
<text class="tk" x="804.5" y="136.1" text-anchor="middle">56°W</text>
<text class="tk" x="804.5" y="674.1" text-anchor="middle">56°W</text>
<rect x="820.6" y="130.6" width="17" height="7.2" fill="#fff"/>
<text class="tk" x="829.1" y="136.1" text-anchor="middle">55°W</text>
<text class="tk" x="829.1" y="674.1" text-anchor="middle">55°W</text>
<rect x="845.2" y="130.6" width="17" height="7.2" fill="#fff"/>
<text class="tk" x="853.7" y="136.1" text-anchor="middle">54°W</text>
<text class="tk" x="853.7" y="674.1" text-anchor="middle">54°W</text>
<rect x="869.9" y="130.6" width="17" height="7.2" fill="#fff"/>
<text class="tk" x="878.4" y="136.1" text-anchor="middle">53°W</text>
<text class="tk" x="878.4" y="674.1" text-anchor="middle">53°W</text>
<rect x="894.5" y="130.6" width="17" height="7.2" fill="#fff"/>
<text class="tk" x="903" y="136.1" text-anchor="middle">52°W</text>
<text class="tk" x="903" y="674.1" text-anchor="middle">52°W</text>
<text class="tk" x="87.0" y="171.4" text-anchor="end">53°S</text>
<text class="tk" x="905.8" y="171.4">53°S</text>
<text class="tk" x="87.0" y="212.7" text-anchor="end">54°S</text>
<text class="tk" x="905.8" y="212.7">54°S</text>
<text class="tk" x="87.0" y="255" text-anchor="end">55°S</text>
<text class="tk" x="905.8" y="255">55°S</text>
<text class="tk" x="87.0" y="298.3" text-anchor="end">56°S</text>
<text class="tk" x="905.8" y="298.3">56°S</text>
<text class="tk" x="87.0" y="342.8" text-anchor="end">57°S</text>
<text class="tk" x="905.8" y="342.8">57°S</text>
<text class="tk" x="87.0" y="388.5" text-anchor="end">58°S</text>
<text class="tk" x="905.8" y="388.5">58°S</text>
<text class="tk" x="87.0" y="435.5" text-anchor="end">59°S</text>
<text class="tk" x="905.8" y="435.5">59°S</text>
<text class="tk" x="87.0" y="483.9" text-anchor="end">60°S</text>
<text class="tk" x="905.8" y="483.9">60°S</text>
<text class="tk" x="87.0" y="533.8" text-anchor="end">61°S</text>
<text class="tk" x="905.8" y="533.8">61°S</text>
<text class="tk" x="87.0" y="585.3" text-anchor="end">62°S</text>
<text class="tk" x="905.8" y="585.3">62°S</text>
<text class="tk" x="87.0" y="638.5" text-anchor="end">63°S</text>
<text class="tk" x="905.8" y="638.5">63°S</text>
<rect x="59.9" y="684.2" width="82.1" height="18.0" fill="#c8dcfa"/>
<rect x="141.7" y="684.2" width="82.1" height="18.0" fill="#0078ff"/>
<rect x="223.6" y="684.2" width="82.1" height="18.0" fill="#78aaff"/>
<rect x="305.4" y="684.2" width="82.1" height="18.0" fill="#1efa00"/>
<rect x="387.2" y="684.2" width="82.1" height="18.0" fill="#ffff00"/>
<rect x="469.1" y="684.2" width="82.1" height="18.0" fill="#ffd700"/>
<rect x="550.9" y="684.2" width="82.1" height="18.0" fill="#ffa500"/>
<rect x="632.8" y="684.2" width="82.1" height="18.0" fill="#ff7800"/>
<rect x="714.6" y="684.2" width="82.1" height="18.0" fill="#ff0000"/>
<rect x="796.4" y="684.2" width="82.1" height="18.0" fill="#6e0f05"/>
<rect x="878.3" y="684.2" width="82.1" height="18.0" fill="#323232"/>
<path d="M141.7 684.2V702.2" stroke="#333" stroke-width="0.7"/>
<path d="M223.6 684.2V702.2" stroke="#333" stroke-width="0.7"/>
<path d="M305.4 684.2V702.2" stroke="#333" stroke-width="0.7"/>
<path d="M387.2 684.2V702.2" stroke="#333" stroke-width="0.7"/>
<path d="M469.1 684.2V702.2" stroke="#333" stroke-width="0.7"/>
<path d="M550.9 684.2V702.2" stroke="#333" stroke-width="0.7"/>
<path d="M632.8 684.2V702.2" stroke="#333" stroke-width="0.7"/>
<path d="M714.6 684.2V702.2" stroke="#333" stroke-width="0.7"/>
<path d="M796.4 684.2V702.2" stroke="#333" stroke-width="0.7"/>
<path d="M878.3 684.2V702.2" stroke="#333" stroke-width="0.7"/>
<rect x="59.9" y="684.2" width="900.2" height="18.0" fill="none" stroke="#222" stroke-width="1.2"/>
<text class="cb" x="59.9" y="677" text-anchor="middle">0</text>
<text class="cb" x="141.7" y="677" text-anchor="middle">0.5</text>
<text class="cb" x="223.6" y="677" text-anchor="middle">1</text>
<text class="cb" x="305.4" y="677" text-anchor="middle">2</text>
<text class="cb" x="387.2" y="677" text-anchor="middle">3</text>
<text class="cb" x="469.1" y="677" text-anchor="middle">4</text>
<text class="cb" x="550.9" y="677" text-anchor="middle">6</text>
<text class="cb" x="632.8" y="677" text-anchor="middle">8</text>
<text class="cb" x="714.6" y="677" text-anchor="middle">10</text>
<text class="cb" x="796.4" y="677" text-anchor="middle">12</text>
<text class="cb" x="878.3" y="677" text-anchor="middle">14</text>
<text class="cb" x="960.1" y="677" text-anchor="middle">20</text>
</svg></body></html>
